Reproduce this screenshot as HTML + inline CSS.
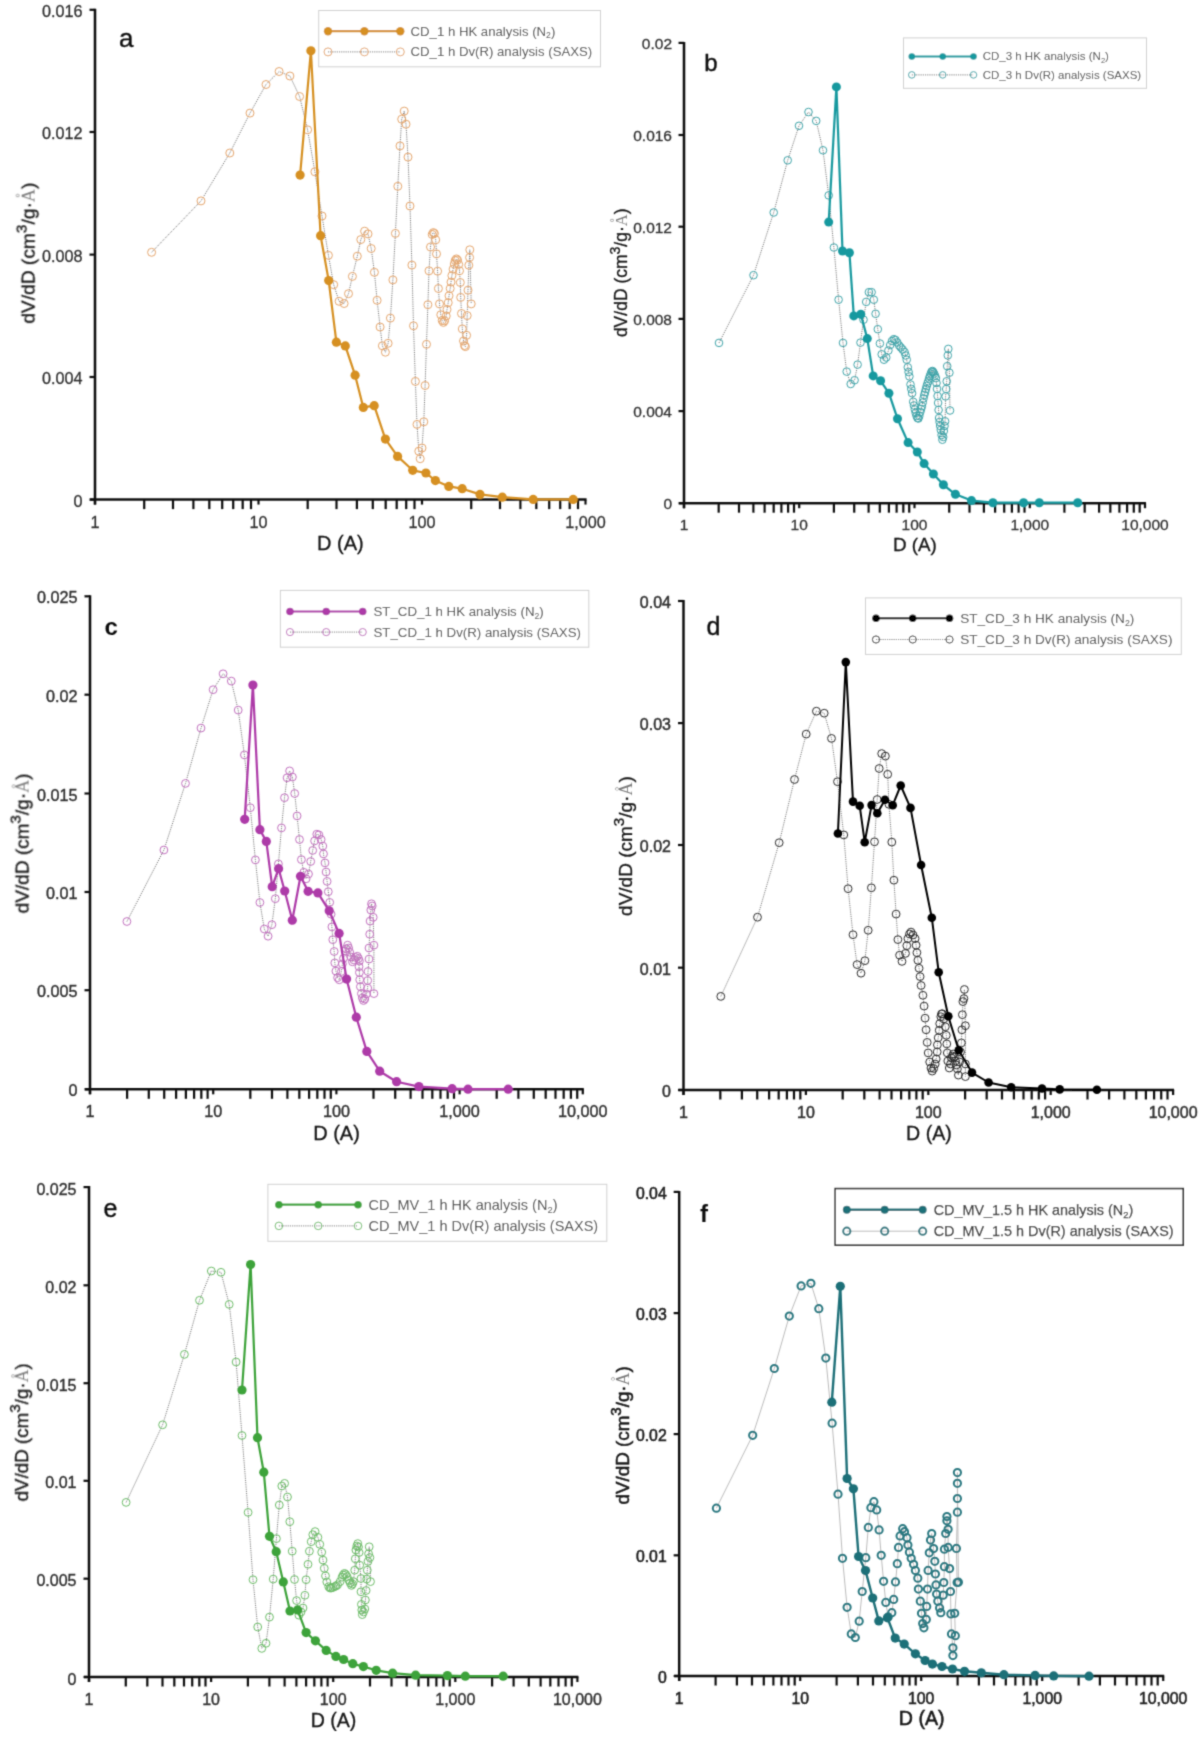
<!DOCTYPE html>
<html><head><meta charset="utf-8"><style>
html,body{margin:0;padding:0;background:#fff;}
svg{display:block;font-family:"Liberation Sans", sans-serif;}
</style></head><body>
<svg width="1203" height="1737" viewBox="0 0 1203 1737">
<defs><filter id="bl" x="0" y="0" width="1203" height="1737" filterUnits="userSpaceOnUse"><feConvolveMatrix order="3" kernelMatrix="0.0622 0.2494 0.0622 0.2494 1.0000 0.2494 0.0622 0.2494 0.0622" divisor="2.2461" edgeMode="none"/></filter></defs>
<rect width="1203" height="1737" fill="#fff"/>
<g filter="url(#bl)">
<line x1="95" y1="8.8" x2="95" y2="504.6" stroke="#111" stroke-width="2.5"/>
<line x1="90" y1="499.6" x2="586.5" y2="499.6" stroke="#111" stroke-width="2.5"/>
<line x1="89.5" y1="499.6" x2="95" y2="499.6" stroke="#111" stroke-width="2.2"/>
<text x="82.5" y="507" text-anchor="end" font-size="16.2" fill="#333" font-weight="400" stroke="#333" stroke-width="0.3">0</text>
<line x1="89.5" y1="377" x2="95" y2="377" stroke="#111" stroke-width="2.2"/>
<text x="82.5" y="384.4" text-anchor="end" font-size="16.2" fill="#333" font-weight="400" stroke="#333" stroke-width="0.3">0.004</text>
<line x1="89.5" y1="254.6" x2="95" y2="254.6" stroke="#111" stroke-width="2.2"/>
<text x="82.5" y="262" text-anchor="end" font-size="16.2" fill="#333" font-weight="400" stroke="#333" stroke-width="0.3">0.008</text>
<line x1="89.5" y1="132" x2="95" y2="132" stroke="#111" stroke-width="2.2"/>
<text x="82.5" y="139.4" text-anchor="end" font-size="16.2" fill="#333" font-weight="400" stroke="#333" stroke-width="0.3">0.012</text>
<line x1="89.5" y1="9.8" x2="95" y2="9.8" stroke="#111" stroke-width="2.2"/>
<text x="82.5" y="17.2" text-anchor="end" font-size="16.2" fill="#333" font-weight="400" stroke="#333" stroke-width="0.3">0.016</text>
<line x1="95" y1="499.6" x2="95" y2="504.6" stroke="#111" stroke-width="2.2"/>
<text x="95" y="528.1" text-anchor="middle" font-size="16.2" fill="#333" font-weight="400" stroke="#333" stroke-width="0.3">1</text>
<line x1="144.2" y1="499.6" x2="144.2" y2="509.1" stroke="#111" stroke-width="2.2"/>
<line x1="173" y1="499.6" x2="173" y2="509.1" stroke="#111" stroke-width="2.2"/>
<line x1="193.4" y1="499.6" x2="193.4" y2="509.1" stroke="#111" stroke-width="2.2"/>
<line x1="209.3" y1="499.6" x2="209.3" y2="509.1" stroke="#111" stroke-width="2.2"/>
<line x1="222.2" y1="499.6" x2="222.2" y2="509.1" stroke="#111" stroke-width="2.2"/>
<line x1="233.2" y1="499.6" x2="233.2" y2="509.1" stroke="#111" stroke-width="2.2"/>
<line x1="242.7" y1="499.6" x2="242.7" y2="509.1" stroke="#111" stroke-width="2.2"/>
<line x1="251" y1="499.6" x2="251" y2="509.1" stroke="#111" stroke-width="2.2"/>
<line x1="258.5" y1="499.6" x2="258.5" y2="504.6" stroke="#111" stroke-width="2.2"/>
<text x="258.5" y="528.1" text-anchor="middle" font-size="16.2" fill="#333" font-weight="400" stroke="#333" stroke-width="0.3">10</text>
<line x1="307.7" y1="499.6" x2="307.7" y2="509.1" stroke="#111" stroke-width="2.2"/>
<line x1="336.5" y1="499.6" x2="336.5" y2="509.1" stroke="#111" stroke-width="2.2"/>
<line x1="356.9" y1="499.6" x2="356.9" y2="509.1" stroke="#111" stroke-width="2.2"/>
<line x1="372.8" y1="499.6" x2="372.8" y2="509.1" stroke="#111" stroke-width="2.2"/>
<line x1="385.7" y1="499.6" x2="385.7" y2="509.1" stroke="#111" stroke-width="2.2"/>
<line x1="396.7" y1="499.6" x2="396.7" y2="509.1" stroke="#111" stroke-width="2.2"/>
<line x1="406.2" y1="499.6" x2="406.2" y2="509.1" stroke="#111" stroke-width="2.2"/>
<line x1="414.5" y1="499.6" x2="414.5" y2="509.1" stroke="#111" stroke-width="2.2"/>
<line x1="422" y1="499.6" x2="422" y2="504.6" stroke="#111" stroke-width="2.2"/>
<text x="422" y="528.1" text-anchor="middle" font-size="16.2" fill="#333" font-weight="400" stroke="#333" stroke-width="0.3">100</text>
<line x1="471.2" y1="499.6" x2="471.2" y2="509.1" stroke="#111" stroke-width="2.2"/>
<line x1="500" y1="499.6" x2="500" y2="509.1" stroke="#111" stroke-width="2.2"/>
<line x1="520.4" y1="499.6" x2="520.4" y2="509.1" stroke="#111" stroke-width="2.2"/>
<line x1="536.3" y1="499.6" x2="536.3" y2="509.1" stroke="#111" stroke-width="2.2"/>
<line x1="549.2" y1="499.6" x2="549.2" y2="509.1" stroke="#111" stroke-width="2.2"/>
<line x1="560.2" y1="499.6" x2="560.2" y2="509.1" stroke="#111" stroke-width="2.2"/>
<line x1="569.7" y1="499.6" x2="569.7" y2="509.1" stroke="#111" stroke-width="2.2"/>
<line x1="578" y1="499.6" x2="578" y2="509.1" stroke="#111" stroke-width="2.2"/>
<line x1="585.5" y1="499.6" x2="585.5" y2="504.6" stroke="#111" stroke-width="2.2"/>
<text x="585.5" y="528.1" text-anchor="middle" font-size="16.2" fill="#333" font-weight="400" stroke="#333" stroke-width="0.3">1,000</text>
<text x="340.4" y="549.9" text-anchor="middle" font-size="20" fill="#151515" font-weight="400" stroke="#151515" stroke-width="0.3">D (A)</text>
<text transform="translate(34.6,253.2) rotate(-90)" text-anchor="middle" font-size="19.2" fill="#151515" font-weight="400" stroke="#151515" stroke-width="0.3">dV/dD (cm<tspan font-size="15.4" dy="-8.1">3</tspan><tspan dy="8.1">/g·</tspan><tspan font-family='"Liberation Serif", serif' fill="#7a7a7a" stroke="none" font-size="18.2">A</tspan><tspan font-size="11.9" fill="#888" stroke="none" dx="-9" dy="-9.6">°</tspan><tspan dx="4.2" dy="9.6">)</tspan></text>
<text x="119" y="47.3" font-size="26" font-weight="400" fill="#111" stroke="#111" stroke-width="0.4">a</text>
<rect x="318.7" y="10.5" width="281.8" height="56.3" fill="#fff" stroke="#d0d0d0" stroke-width="1"/>
<line x1="328" y1="31.2" x2="400.3" y2="31.2" stroke="#d69022" stroke-width="2.2"/>
<circle cx="328" cy="31.2" r="4.2" fill="#d69022"/>
<circle cx="364.4" cy="31.2" r="4.2" fill="#d69022"/>
<circle cx="400.3" cy="31.2" r="4.2" fill="#d69022"/>
<line x1="328" y1="51.9" x2="400.3" y2="51.9" stroke="#707070" stroke-width="1" stroke-dasharray="1.1 1.1"/>
<circle cx="328" cy="51.9" r="4" fill="none" stroke="#e4a66e" stroke-width="1"/>
<circle cx="364.4" cy="51.9" r="4" fill="none" stroke="#e4a66e" stroke-width="1"/>
<circle cx="400.3" cy="51.9" r="4" fill="none" stroke="#e4a66e" stroke-width="1"/>
<text x="410.5" y="35.7" font-size="13.2" fill="#474747" font-weight="400">CD_1 h HK analysis (N<tspan font-size="8.6" dy="2.6">2</tspan><tspan dy="-2.6">)</tspan></text>
<text x="410.5" y="56.4" font-size="13.2" fill="#474747" font-weight="400">CD_1 h Dv(R) analysis (SAXS)</text>
<polyline points="151.6,252.3 201,200.9 229.8,153 250,113.1 266,84.5 279.1,71.5 289.9,76 299.6,96.5 307.6,129.8 314.9,171.8 322,216 328.4,255.3 333.7,284.7 339.1,301.3 344.1,303.5 348.5,293.7 352.4,276.4 357.3,256.2 360.8,239.6 364.6,231.2 368,233.9 371.2,248.5 374.4,272.3 377.1,300.3 380.1,327 382.4,345.8 385.4,352.2 388.1,343.3 390.4,318.1 392.9,279.9 395.4,233.4 397.8,186.3 400,145.9 401.7,119.2 404.2,111.1 406,124.2 408,157.1 410,206 411.9,265.1 413.5,325.8 415.4,381.4 417,424.4 418.8,451.2 420.2,458.7 422,448 423.8,421.8 425.1,385.5 426.5,344.3 427.9,304.7 429,270.8 430.5,247 432.2,234.5 433.3,232.6 434.4,233.5 435.7,239.8 436.5,253.9 437.6,271.2 438.4,288.5 439.5,303.9 440.8,314.8 442.2,320.5 443.4,322.4 444.6,320.8 446.2,316 447,309.5 448.2,302.7 449,295.8 450.2,288.5 451,282.1 451.9,275.6 453.1,269.2 454.3,264 455.2,260.5 456.4,258.9 457.5,260 458.7,264.4 459.5,270.8 460.3,282.5 460.7,297.4 461.5,313.5 462.3,328.9 463.5,341 464.5,345.5 465.4,346.6 466.6,335.3 467.2,315.6 468,290.2 468.8,265.2 469.6,257.5 469.8,249.8 471.2,303.9" fill="none" stroke="#707070" stroke-width="1" stroke-dasharray="1.1 1.1"/>
<circle cx="151.6" cy="252.3" r="4.0" fill="none" stroke="#e4a66e" stroke-width="1"/>
<circle cx="201" cy="200.9" r="4.0" fill="none" stroke="#e4a66e" stroke-width="1"/>
<circle cx="229.8" cy="153" r="4.0" fill="none" stroke="#e4a66e" stroke-width="1"/>
<circle cx="250" cy="113.1" r="4.0" fill="none" stroke="#e4a66e" stroke-width="1"/>
<circle cx="266" cy="84.5" r="4.0" fill="none" stroke="#e4a66e" stroke-width="1"/>
<circle cx="279.1" cy="71.5" r="4.0" fill="none" stroke="#e4a66e" stroke-width="1"/>
<circle cx="289.9" cy="76" r="4.0" fill="none" stroke="#e4a66e" stroke-width="1"/>
<circle cx="299.6" cy="96.5" r="4.0" fill="none" stroke="#e4a66e" stroke-width="1"/>
<circle cx="307.6" cy="129.8" r="4.0" fill="none" stroke="#e4a66e" stroke-width="1"/>
<circle cx="314.9" cy="171.8" r="4.0" fill="none" stroke="#e4a66e" stroke-width="1"/>
<circle cx="322" cy="216" r="4.0" fill="none" stroke="#e4a66e" stroke-width="1"/>
<circle cx="328.4" cy="255.3" r="4.0" fill="none" stroke="#e4a66e" stroke-width="1"/>
<circle cx="333.7" cy="284.7" r="4.0" fill="none" stroke="#e4a66e" stroke-width="1"/>
<circle cx="339.1" cy="301.3" r="4.0" fill="none" stroke="#e4a66e" stroke-width="1"/>
<circle cx="344.1" cy="303.5" r="4.0" fill="none" stroke="#e4a66e" stroke-width="1"/>
<circle cx="348.5" cy="293.7" r="4.0" fill="none" stroke="#e4a66e" stroke-width="1"/>
<circle cx="352.4" cy="276.4" r="4.0" fill="none" stroke="#e4a66e" stroke-width="1"/>
<circle cx="357.3" cy="256.2" r="4.0" fill="none" stroke="#e4a66e" stroke-width="1"/>
<circle cx="360.8" cy="239.6" r="4.0" fill="none" stroke="#e4a66e" stroke-width="1"/>
<circle cx="364.6" cy="231.2" r="4.0" fill="none" stroke="#e4a66e" stroke-width="1"/>
<circle cx="368" cy="233.9" r="4.0" fill="none" stroke="#e4a66e" stroke-width="1"/>
<circle cx="371.2" cy="248.5" r="4.0" fill="none" stroke="#e4a66e" stroke-width="1"/>
<circle cx="374.4" cy="272.3" r="4.0" fill="none" stroke="#e4a66e" stroke-width="1"/>
<circle cx="377.1" cy="300.3" r="4.0" fill="none" stroke="#e4a66e" stroke-width="1"/>
<circle cx="380.1" cy="327" r="4.0" fill="none" stroke="#e4a66e" stroke-width="1"/>
<circle cx="382.4" cy="345.8" r="4.0" fill="none" stroke="#e4a66e" stroke-width="1"/>
<circle cx="385.4" cy="352.2" r="4.0" fill="none" stroke="#e4a66e" stroke-width="1"/>
<circle cx="388.1" cy="343.3" r="4.0" fill="none" stroke="#e4a66e" stroke-width="1"/>
<circle cx="390.4" cy="318.1" r="4.0" fill="none" stroke="#e4a66e" stroke-width="1"/>
<circle cx="392.9" cy="279.9" r="4.0" fill="none" stroke="#e4a66e" stroke-width="1"/>
<circle cx="395.4" cy="233.4" r="4.0" fill="none" stroke="#e4a66e" stroke-width="1"/>
<circle cx="397.8" cy="186.3" r="4.0" fill="none" stroke="#e4a66e" stroke-width="1"/>
<circle cx="400" cy="145.9" r="4.0" fill="none" stroke="#e4a66e" stroke-width="1"/>
<circle cx="401.7" cy="119.2" r="4.0" fill="none" stroke="#e4a66e" stroke-width="1"/>
<circle cx="404.2" cy="111.1" r="4.0" fill="none" stroke="#e4a66e" stroke-width="1"/>
<circle cx="406" cy="124.2" r="4.0" fill="none" stroke="#e4a66e" stroke-width="1"/>
<circle cx="408" cy="157.1" r="4.0" fill="none" stroke="#e4a66e" stroke-width="1"/>
<circle cx="410" cy="206" r="4.0" fill="none" stroke="#e4a66e" stroke-width="1"/>
<circle cx="411.9" cy="265.1" r="4.0" fill="none" stroke="#e4a66e" stroke-width="1"/>
<circle cx="413.5" cy="325.8" r="4.0" fill="none" stroke="#e4a66e" stroke-width="1"/>
<circle cx="415.4" cy="381.4" r="4.0" fill="none" stroke="#e4a66e" stroke-width="1"/>
<circle cx="417" cy="424.4" r="4.0" fill="none" stroke="#e4a66e" stroke-width="1"/>
<circle cx="418.8" cy="451.2" r="4.0" fill="none" stroke="#e4a66e" stroke-width="1"/>
<circle cx="420.2" cy="458.7" r="4.0" fill="none" stroke="#e4a66e" stroke-width="1"/>
<circle cx="422" cy="448" r="4.0" fill="none" stroke="#e4a66e" stroke-width="1"/>
<circle cx="423.8" cy="421.8" r="4.0" fill="none" stroke="#e4a66e" stroke-width="1"/>
<circle cx="425.1" cy="385.5" r="4.0" fill="none" stroke="#e4a66e" stroke-width="1"/>
<circle cx="426.5" cy="344.3" r="4.0" fill="none" stroke="#e4a66e" stroke-width="1"/>
<circle cx="427.9" cy="304.7" r="4.0" fill="none" stroke="#e4a66e" stroke-width="1"/>
<circle cx="429" cy="270.8" r="4.0" fill="none" stroke="#e4a66e" stroke-width="1"/>
<circle cx="430.5" cy="247" r="4.0" fill="none" stroke="#e4a66e" stroke-width="1"/>
<circle cx="432.2" cy="234.5" r="4.0" fill="none" stroke="#e4a66e" stroke-width="1"/>
<circle cx="433.3" cy="232.6" r="4.0" fill="none" stroke="#e4a66e" stroke-width="1"/>
<circle cx="434.4" cy="233.5" r="4.0" fill="none" stroke="#e4a66e" stroke-width="1"/>
<circle cx="435.7" cy="239.8" r="4.0" fill="none" stroke="#e4a66e" stroke-width="1"/>
<circle cx="436.5" cy="253.9" r="4.0" fill="none" stroke="#e4a66e" stroke-width="1"/>
<circle cx="437.6" cy="271.2" r="4.0" fill="none" stroke="#e4a66e" stroke-width="1"/>
<circle cx="438.4" cy="288.5" r="4.0" fill="none" stroke="#e4a66e" stroke-width="1"/>
<circle cx="439.5" cy="303.9" r="4.0" fill="none" stroke="#e4a66e" stroke-width="1"/>
<circle cx="440.8" cy="314.8" r="4.0" fill="none" stroke="#e4a66e" stroke-width="1"/>
<circle cx="442.2" cy="320.5" r="4.0" fill="none" stroke="#e4a66e" stroke-width="1"/>
<circle cx="443.4" cy="322.4" r="4.0" fill="none" stroke="#e4a66e" stroke-width="1"/>
<circle cx="444.6" cy="320.8" r="4.0" fill="none" stroke="#e4a66e" stroke-width="1"/>
<circle cx="446.2" cy="316" r="4.0" fill="none" stroke="#e4a66e" stroke-width="1"/>
<circle cx="447" cy="309.5" r="4.0" fill="none" stroke="#e4a66e" stroke-width="1"/>
<circle cx="448.2" cy="302.7" r="4.0" fill="none" stroke="#e4a66e" stroke-width="1"/>
<circle cx="449" cy="295.8" r="4.0" fill="none" stroke="#e4a66e" stroke-width="1"/>
<circle cx="450.2" cy="288.5" r="4.0" fill="none" stroke="#e4a66e" stroke-width="1"/>
<circle cx="451" cy="282.1" r="4.0" fill="none" stroke="#e4a66e" stroke-width="1"/>
<circle cx="451.9" cy="275.6" r="4.0" fill="none" stroke="#e4a66e" stroke-width="1"/>
<circle cx="453.1" cy="269.2" r="4.0" fill="none" stroke="#e4a66e" stroke-width="1"/>
<circle cx="454.3" cy="264" r="4.0" fill="none" stroke="#e4a66e" stroke-width="1"/>
<circle cx="455.2" cy="260.5" r="4.0" fill="none" stroke="#e4a66e" stroke-width="1"/>
<circle cx="456.4" cy="258.9" r="4.0" fill="none" stroke="#e4a66e" stroke-width="1"/>
<circle cx="457.5" cy="260" r="4.0" fill="none" stroke="#e4a66e" stroke-width="1"/>
<circle cx="458.7" cy="264.4" r="4.0" fill="none" stroke="#e4a66e" stroke-width="1"/>
<circle cx="459.5" cy="270.8" r="4.0" fill="none" stroke="#e4a66e" stroke-width="1"/>
<circle cx="460.3" cy="282.5" r="4.0" fill="none" stroke="#e4a66e" stroke-width="1"/>
<circle cx="460.7" cy="297.4" r="4.0" fill="none" stroke="#e4a66e" stroke-width="1"/>
<circle cx="461.5" cy="313.5" r="4.0" fill="none" stroke="#e4a66e" stroke-width="1"/>
<circle cx="462.3" cy="328.9" r="4.0" fill="none" stroke="#e4a66e" stroke-width="1"/>
<circle cx="463.5" cy="341" r="4.0" fill="none" stroke="#e4a66e" stroke-width="1"/>
<circle cx="464.5" cy="345.5" r="4.0" fill="none" stroke="#e4a66e" stroke-width="1"/>
<circle cx="465.4" cy="346.6" r="4.0" fill="none" stroke="#e4a66e" stroke-width="1"/>
<circle cx="466.6" cy="335.3" r="4.0" fill="none" stroke="#e4a66e" stroke-width="1"/>
<circle cx="467.2" cy="315.6" r="4.0" fill="none" stroke="#e4a66e" stroke-width="1"/>
<circle cx="468" cy="290.2" r="4.0" fill="none" stroke="#e4a66e" stroke-width="1"/>
<circle cx="468.8" cy="265.2" r="4.0" fill="none" stroke="#e4a66e" stroke-width="1"/>
<circle cx="469.6" cy="257.5" r="4.0" fill="none" stroke="#e4a66e" stroke-width="1"/>
<circle cx="469.8" cy="249.8" r="4.0" fill="none" stroke="#e4a66e" stroke-width="1"/>
<circle cx="471.2" cy="303.9" r="4.0" fill="none" stroke="#e4a66e" stroke-width="1"/>
<polyline points="300.1,175.1 310.9,50.8 320.6,235.7 328.7,280.6 336.4,342.2 345.3,345.9 355.1,375.2 363.3,407.4 374.2,405.7 385.4,439.1 397.6,456.4 412.7,470.3 425.9,473 435.4,480.6 448.8,486.4 462.2,488.7 480,494.4 502.3,497.2 533.2,499.4 573.2,499.4" fill="none" stroke="#d69022" stroke-width="2.2" stroke-linejoin="round"/>
<circle cx="300.1" cy="175.1" r="4.6" fill="#d69022"/>
<circle cx="310.9" cy="50.8" r="4.6" fill="#d69022"/>
<circle cx="320.6" cy="235.7" r="4.6" fill="#d69022"/>
<circle cx="328.7" cy="280.6" r="4.6" fill="#d69022"/>
<circle cx="336.4" cy="342.2" r="4.6" fill="#d69022"/>
<circle cx="345.3" cy="345.9" r="4.6" fill="#d69022"/>
<circle cx="355.1" cy="375.2" r="4.6" fill="#d69022"/>
<circle cx="363.3" cy="407.4" r="4.6" fill="#d69022"/>
<circle cx="374.2" cy="405.7" r="4.6" fill="#d69022"/>
<circle cx="385.4" cy="439.1" r="4.6" fill="#d69022"/>
<circle cx="397.6" cy="456.4" r="4.6" fill="#d69022"/>
<circle cx="412.7" cy="470.3" r="4.6" fill="#d69022"/>
<circle cx="425.9" cy="473" r="4.6" fill="#d69022"/>
<circle cx="435.4" cy="480.6" r="4.6" fill="#d69022"/>
<circle cx="448.8" cy="486.4" r="4.6" fill="#d69022"/>
<circle cx="462.2" cy="488.7" r="4.6" fill="#d69022"/>
<circle cx="480" cy="494.4" r="4.6" fill="#d69022"/>
<circle cx="502.3" cy="497.2" r="4.6" fill="#d69022"/>
<circle cx="533.2" cy="499.4" r="4.6" fill="#d69022"/>
<circle cx="573.2" cy="499.4" r="4.6" fill="#d69022"/>
<line x1="684" y1="41.9" x2="684" y2="508.2" stroke="#111" stroke-width="2.5"/>
<line x1="679" y1="503.2" x2="1146" y2="503.2" stroke="#111" stroke-width="2.5"/>
<line x1="678.5" y1="503.2" x2="684" y2="503.2" stroke="#111" stroke-width="2.2"/>
<text x="672" y="509.4" text-anchor="end" font-size="15.5" fill="#333" font-weight="400" stroke="#333" stroke-width="0.3">0</text>
<line x1="678.5" y1="411.1" x2="684" y2="411.1" stroke="#111" stroke-width="2.2"/>
<text x="672" y="417.3" text-anchor="end" font-size="15.5" fill="#333" font-weight="400" stroke="#333" stroke-width="0.3">0.004</text>
<line x1="678.5" y1="318.9" x2="684" y2="318.9" stroke="#111" stroke-width="2.2"/>
<text x="672" y="325.1" text-anchor="end" font-size="15.5" fill="#333" font-weight="400" stroke="#333" stroke-width="0.3">0.008</text>
<line x1="678.5" y1="226.7" x2="684" y2="226.7" stroke="#111" stroke-width="2.2"/>
<text x="672" y="232.9" text-anchor="end" font-size="15.5" fill="#333" font-weight="400" stroke="#333" stroke-width="0.3">0.012</text>
<line x1="678.5" y1="135" x2="684" y2="135" stroke="#111" stroke-width="2.2"/>
<text x="672" y="141.2" text-anchor="end" font-size="15.5" fill="#333" font-weight="400" stroke="#333" stroke-width="0.3">0.016</text>
<line x1="678.5" y1="42.9" x2="684" y2="42.9" stroke="#111" stroke-width="2.2"/>
<text x="672" y="49.1" text-anchor="end" font-size="15.5" fill="#333" font-weight="400" stroke="#333" stroke-width="0.3">0.02</text>
<line x1="684" y1="503.2" x2="684" y2="508.2" stroke="#111" stroke-width="2.2"/>
<text x="684" y="530.2" text-anchor="middle" font-size="15.5" fill="#333" font-weight="400" stroke="#333" stroke-width="0.3">1</text>
<line x1="718.7" y1="503.2" x2="718.7" y2="512.7" stroke="#111" stroke-width="2.2"/>
<line x1="739" y1="503.2" x2="739" y2="512.7" stroke="#111" stroke-width="2.2"/>
<line x1="753.4" y1="503.2" x2="753.4" y2="512.7" stroke="#111" stroke-width="2.2"/>
<line x1="764.6" y1="503.2" x2="764.6" y2="512.7" stroke="#111" stroke-width="2.2"/>
<line x1="773.7" y1="503.2" x2="773.7" y2="512.7" stroke="#111" stroke-width="2.2"/>
<line x1="781.4" y1="503.2" x2="781.4" y2="512.7" stroke="#111" stroke-width="2.2"/>
<line x1="788.1" y1="503.2" x2="788.1" y2="512.7" stroke="#111" stroke-width="2.2"/>
<line x1="794" y1="503.2" x2="794" y2="512.7" stroke="#111" stroke-width="2.2"/>
<line x1="799.2" y1="503.2" x2="799.2" y2="508.2" stroke="#111" stroke-width="2.2"/>
<text x="799.2" y="530.2" text-anchor="middle" font-size="15.5" fill="#333" font-weight="400" stroke="#333" stroke-width="0.3">10</text>
<line x1="833.9" y1="503.2" x2="833.9" y2="512.7" stroke="#111" stroke-width="2.2"/>
<line x1="854.2" y1="503.2" x2="854.2" y2="512.7" stroke="#111" stroke-width="2.2"/>
<line x1="868.6" y1="503.2" x2="868.6" y2="512.7" stroke="#111" stroke-width="2.2"/>
<line x1="879.8" y1="503.2" x2="879.8" y2="512.7" stroke="#111" stroke-width="2.2"/>
<line x1="888.9" y1="503.2" x2="888.9" y2="512.7" stroke="#111" stroke-width="2.2"/>
<line x1="896.6" y1="503.2" x2="896.6" y2="512.7" stroke="#111" stroke-width="2.2"/>
<line x1="903.3" y1="503.2" x2="903.3" y2="512.7" stroke="#111" stroke-width="2.2"/>
<line x1="909.2" y1="503.2" x2="909.2" y2="512.7" stroke="#111" stroke-width="2.2"/>
<line x1="914.5" y1="503.2" x2="914.5" y2="508.2" stroke="#111" stroke-width="2.2"/>
<text x="914.5" y="530.2" text-anchor="middle" font-size="15.5" fill="#333" font-weight="400" stroke="#333" stroke-width="0.3">100</text>
<line x1="949.2" y1="503.2" x2="949.2" y2="512.7" stroke="#111" stroke-width="2.2"/>
<line x1="969.5" y1="503.2" x2="969.5" y2="512.7" stroke="#111" stroke-width="2.2"/>
<line x1="983.9" y1="503.2" x2="983.9" y2="512.7" stroke="#111" stroke-width="2.2"/>
<line x1="995.1" y1="503.2" x2="995.1" y2="512.7" stroke="#111" stroke-width="2.2"/>
<line x1="1004.2" y1="503.2" x2="1004.2" y2="512.7" stroke="#111" stroke-width="2.2"/>
<line x1="1011.9" y1="503.2" x2="1011.9" y2="512.7" stroke="#111" stroke-width="2.2"/>
<line x1="1018.6" y1="503.2" x2="1018.6" y2="512.7" stroke="#111" stroke-width="2.2"/>
<line x1="1024.5" y1="503.2" x2="1024.5" y2="512.7" stroke="#111" stroke-width="2.2"/>
<line x1="1029.8" y1="503.2" x2="1029.8" y2="508.2" stroke="#111" stroke-width="2.2"/>
<text x="1029.8" y="530.2" text-anchor="middle" font-size="15.5" fill="#333" font-weight="400" stroke="#333" stroke-width="0.3">1,000</text>
<line x1="1064.4" y1="503.2" x2="1064.4" y2="512.7" stroke="#111" stroke-width="2.2"/>
<line x1="1084.7" y1="503.2" x2="1084.7" y2="512.7" stroke="#111" stroke-width="2.2"/>
<line x1="1099.1" y1="503.2" x2="1099.1" y2="512.7" stroke="#111" stroke-width="2.2"/>
<line x1="1110.3" y1="503.2" x2="1110.3" y2="512.7" stroke="#111" stroke-width="2.2"/>
<line x1="1119.4" y1="503.2" x2="1119.4" y2="512.7" stroke="#111" stroke-width="2.2"/>
<line x1="1127.1" y1="503.2" x2="1127.1" y2="512.7" stroke="#111" stroke-width="2.2"/>
<line x1="1133.8" y1="503.2" x2="1133.8" y2="512.7" stroke="#111" stroke-width="2.2"/>
<line x1="1139.7" y1="503.2" x2="1139.7" y2="512.7" stroke="#111" stroke-width="2.2"/>
<line x1="1145" y1="503.2" x2="1145" y2="508.2" stroke="#111" stroke-width="2.2"/>
<text x="1145" y="530.2" text-anchor="middle" font-size="15.5" fill="#333" font-weight="400" stroke="#333" stroke-width="0.3">10,000</text>
<text x="914.8" y="550.8" text-anchor="middle" font-size="18.8" fill="#151515" font-weight="400" stroke="#151515" stroke-width="0.3">D (A)</text>
<text transform="translate(627.1,272.8) rotate(-90)" text-anchor="middle" font-size="17.5" fill="#151515" font-weight="400" stroke="#151515" stroke-width="0.3">dV/dD (cm<tspan font-size="14" dy="-7.3">3</tspan><tspan dy="7.3">/g·</tspan><tspan font-family='"Liberation Serif", serif' fill="#7a7a7a" stroke="none" font-size="16.6">A</tspan><tspan font-size="10.8" fill="#888" stroke="none" dx="-8.2" dy="-8.8">°</tspan><tspan dx="3.8" dy="8.8">)</tspan></text>
<text x="704.3" y="71.3" font-size="24" font-weight="400" fill="#111" stroke="#111" stroke-width="0.4">b</text>
<rect x="903.5" y="37.9" width="243" height="50.4" fill="#fff" stroke="#d0d0d0" stroke-width="1"/>
<line x1="911.8" y1="56.5" x2="973.5" y2="56.5" stroke="#15999f" stroke-width="2.2"/>
<circle cx="911.8" cy="56.5" r="3.3" fill="#15999f"/>
<circle cx="942.7" cy="56.5" r="3.3" fill="#15999f"/>
<circle cx="973.5" cy="56.5" r="3.3" fill="#15999f"/>
<line x1="911.8" y1="74.9" x2="973.5" y2="74.9" stroke="#707070" stroke-width="1" stroke-dasharray="1.1 1.1"/>
<circle cx="911.8" cy="74.9" r="3.3" fill="none" stroke="#3fa3a8" stroke-width="1"/>
<circle cx="942.7" cy="74.9" r="3.3" fill="none" stroke="#3fa3a8" stroke-width="1"/>
<circle cx="973.5" cy="74.9" r="3.3" fill="none" stroke="#3fa3a8" stroke-width="1"/>
<text x="982.7" y="60.4" font-size="11.5" fill="#474747" font-weight="400">CD_3 h HK analysis (N<tspan font-size="7.5" dy="2.3">2</tspan><tspan dy="-2.3">)</tspan></text>
<text x="982.7" y="78.8" font-size="11.5" fill="#474747" font-weight="400">CD_3 h Dv(R) analysis (SAXS)</text>
<polyline points="719,342.9 753.5,275.2 773.7,212.5 787.7,160.3 799,125.8 808.5,112 816.2,120.9 823,150.3 828.7,195.4 833.9,247.5 838.6,299.7 843,342.9 846.7,371.6 850.7,384 854.6,380.2 857.6,364.6 860.5,342.6 863.5,319.7 866.2,301.9 868.9,292.2 871.6,292.2 873.8,299.7 875.6,313.8 877.8,329.2 879.9,343.5 881.7,354.3 884,359.7 886.2,357.5 888.4,350.5 890.2,345 892,341 893.8,339.2 895.5,340 897.3,342.5 899.2,345.6 900.8,347.5 902.6,349.5 904.6,352.1 905.7,355.5 906.7,359.7 907.8,367.3 908.6,372 909.4,376.4 910.5,384.5 911.3,389 912.1,393.2 913.2,401.8 914,405.5 914.8,409.4 915.7,413 916.6,416 917.5,418 918.4,418.5 919.3,416 920.3,412 921.1,409 921.9,406.2 922.7,402.5 923.5,398.5 924.3,395 925.1,392.1 925.9,389 926.7,386 927.5,383.5 928.3,381.3 929.1,378.5 929.9,376 930.8,373.5 931.6,371.6 932.4,371 933.2,372 934,373.5 934.9,375.5 935.9,378.1 936.5,383 937,388.9 937.6,396 938.1,402.9 938.6,410 939.1,418 939.6,422 940.2,426 940.8,429.9 941.6,435 942.4,439.7 943.2,437 943.8,431 944.5,426 945.1,421.3 945.6,396.4 946.2,389 946.7,381.3 947.2,366.2 947.8,355.4 948.3,348.9 949.4,372.7 950,410.5" fill="none" stroke="#707070" stroke-width="1" stroke-dasharray="1.1 1.1"/>
<circle cx="719" cy="342.9" r="3.8" fill="none" stroke="#3fa3a8" stroke-width="1"/>
<circle cx="753.5" cy="275.2" r="3.8" fill="none" stroke="#3fa3a8" stroke-width="1"/>
<circle cx="773.7" cy="212.5" r="3.8" fill="none" stroke="#3fa3a8" stroke-width="1"/>
<circle cx="787.7" cy="160.3" r="3.8" fill="none" stroke="#3fa3a8" stroke-width="1"/>
<circle cx="799" cy="125.8" r="3.8" fill="none" stroke="#3fa3a8" stroke-width="1"/>
<circle cx="808.5" cy="112" r="3.8" fill="none" stroke="#3fa3a8" stroke-width="1"/>
<circle cx="816.2" cy="120.9" r="3.8" fill="none" stroke="#3fa3a8" stroke-width="1"/>
<circle cx="823" cy="150.3" r="3.8" fill="none" stroke="#3fa3a8" stroke-width="1"/>
<circle cx="828.7" cy="195.4" r="3.8" fill="none" stroke="#3fa3a8" stroke-width="1"/>
<circle cx="833.9" cy="247.5" r="3.8" fill="none" stroke="#3fa3a8" stroke-width="1"/>
<circle cx="838.6" cy="299.7" r="3.8" fill="none" stroke="#3fa3a8" stroke-width="1"/>
<circle cx="843" cy="342.9" r="3.8" fill="none" stroke="#3fa3a8" stroke-width="1"/>
<circle cx="846.7" cy="371.6" r="3.8" fill="none" stroke="#3fa3a8" stroke-width="1"/>
<circle cx="850.7" cy="384" r="3.8" fill="none" stroke="#3fa3a8" stroke-width="1"/>
<circle cx="854.6" cy="380.2" r="3.8" fill="none" stroke="#3fa3a8" stroke-width="1"/>
<circle cx="857.6" cy="364.6" r="3.8" fill="none" stroke="#3fa3a8" stroke-width="1"/>
<circle cx="860.5" cy="342.6" r="3.8" fill="none" stroke="#3fa3a8" stroke-width="1"/>
<circle cx="863.5" cy="319.7" r="3.8" fill="none" stroke="#3fa3a8" stroke-width="1"/>
<circle cx="866.2" cy="301.9" r="3.8" fill="none" stroke="#3fa3a8" stroke-width="1"/>
<circle cx="868.9" cy="292.2" r="3.8" fill="none" stroke="#3fa3a8" stroke-width="1"/>
<circle cx="871.6" cy="292.2" r="3.8" fill="none" stroke="#3fa3a8" stroke-width="1"/>
<circle cx="873.8" cy="299.7" r="3.8" fill="none" stroke="#3fa3a8" stroke-width="1"/>
<circle cx="875.6" cy="313.8" r="3.8" fill="none" stroke="#3fa3a8" stroke-width="1"/>
<circle cx="877.8" cy="329.2" r="3.8" fill="none" stroke="#3fa3a8" stroke-width="1"/>
<circle cx="879.9" cy="343.5" r="3.8" fill="none" stroke="#3fa3a8" stroke-width="1"/>
<circle cx="881.7" cy="354.3" r="3.8" fill="none" stroke="#3fa3a8" stroke-width="1"/>
<circle cx="884" cy="359.7" r="3.8" fill="none" stroke="#3fa3a8" stroke-width="1"/>
<circle cx="886.2" cy="357.5" r="3.8" fill="none" stroke="#3fa3a8" stroke-width="1"/>
<circle cx="888.4" cy="350.5" r="3.8" fill="none" stroke="#3fa3a8" stroke-width="1"/>
<circle cx="890.2" cy="345" r="3.8" fill="none" stroke="#3fa3a8" stroke-width="1"/>
<circle cx="892" cy="341" r="3.8" fill="none" stroke="#3fa3a8" stroke-width="1"/>
<circle cx="893.8" cy="339.2" r="3.8" fill="none" stroke="#3fa3a8" stroke-width="1"/>
<circle cx="895.5" cy="340" r="3.8" fill="none" stroke="#3fa3a8" stroke-width="1"/>
<circle cx="897.3" cy="342.5" r="3.8" fill="none" stroke="#3fa3a8" stroke-width="1"/>
<circle cx="899.2" cy="345.6" r="3.8" fill="none" stroke="#3fa3a8" stroke-width="1"/>
<circle cx="900.8" cy="347.5" r="3.8" fill="none" stroke="#3fa3a8" stroke-width="1"/>
<circle cx="902.6" cy="349.5" r="3.8" fill="none" stroke="#3fa3a8" stroke-width="1"/>
<circle cx="904.6" cy="352.1" r="3.8" fill="none" stroke="#3fa3a8" stroke-width="1"/>
<circle cx="905.7" cy="355.5" r="3.8" fill="none" stroke="#3fa3a8" stroke-width="1"/>
<circle cx="906.7" cy="359.7" r="3.8" fill="none" stroke="#3fa3a8" stroke-width="1"/>
<circle cx="907.8" cy="367.3" r="3.8" fill="none" stroke="#3fa3a8" stroke-width="1"/>
<circle cx="908.6" cy="372" r="3.8" fill="none" stroke="#3fa3a8" stroke-width="1"/>
<circle cx="909.4" cy="376.4" r="3.8" fill="none" stroke="#3fa3a8" stroke-width="1"/>
<circle cx="910.5" cy="384.5" r="3.8" fill="none" stroke="#3fa3a8" stroke-width="1"/>
<circle cx="911.3" cy="389" r="3.8" fill="none" stroke="#3fa3a8" stroke-width="1"/>
<circle cx="912.1" cy="393.2" r="3.8" fill="none" stroke="#3fa3a8" stroke-width="1"/>
<circle cx="913.2" cy="401.8" r="3.8" fill="none" stroke="#3fa3a8" stroke-width="1"/>
<circle cx="914" cy="405.5" r="3.8" fill="none" stroke="#3fa3a8" stroke-width="1"/>
<circle cx="914.8" cy="409.4" r="3.8" fill="none" stroke="#3fa3a8" stroke-width="1"/>
<circle cx="915.7" cy="413" r="3.8" fill="none" stroke="#3fa3a8" stroke-width="1"/>
<circle cx="916.6" cy="416" r="3.8" fill="none" stroke="#3fa3a8" stroke-width="1"/>
<circle cx="917.5" cy="418" r="3.8" fill="none" stroke="#3fa3a8" stroke-width="1"/>
<circle cx="918.4" cy="418.5" r="3.8" fill="none" stroke="#3fa3a8" stroke-width="1"/>
<circle cx="919.3" cy="416" r="3.8" fill="none" stroke="#3fa3a8" stroke-width="1"/>
<circle cx="920.3" cy="412" r="3.8" fill="none" stroke="#3fa3a8" stroke-width="1"/>
<circle cx="921.1" cy="409" r="3.8" fill="none" stroke="#3fa3a8" stroke-width="1"/>
<circle cx="921.9" cy="406.2" r="3.8" fill="none" stroke="#3fa3a8" stroke-width="1"/>
<circle cx="922.7" cy="402.5" r="3.8" fill="none" stroke="#3fa3a8" stroke-width="1"/>
<circle cx="923.5" cy="398.5" r="3.8" fill="none" stroke="#3fa3a8" stroke-width="1"/>
<circle cx="924.3" cy="395" r="3.8" fill="none" stroke="#3fa3a8" stroke-width="1"/>
<circle cx="925.1" cy="392.1" r="3.8" fill="none" stroke="#3fa3a8" stroke-width="1"/>
<circle cx="925.9" cy="389" r="3.8" fill="none" stroke="#3fa3a8" stroke-width="1"/>
<circle cx="926.7" cy="386" r="3.8" fill="none" stroke="#3fa3a8" stroke-width="1"/>
<circle cx="927.5" cy="383.5" r="3.8" fill="none" stroke="#3fa3a8" stroke-width="1"/>
<circle cx="928.3" cy="381.3" r="3.8" fill="none" stroke="#3fa3a8" stroke-width="1"/>
<circle cx="929.1" cy="378.5" r="3.8" fill="none" stroke="#3fa3a8" stroke-width="1"/>
<circle cx="929.9" cy="376" r="3.8" fill="none" stroke="#3fa3a8" stroke-width="1"/>
<circle cx="930.8" cy="373.5" r="3.8" fill="none" stroke="#3fa3a8" stroke-width="1"/>
<circle cx="931.6" cy="371.6" r="3.8" fill="none" stroke="#3fa3a8" stroke-width="1"/>
<circle cx="932.4" cy="371" r="3.8" fill="none" stroke="#3fa3a8" stroke-width="1"/>
<circle cx="933.2" cy="372" r="3.8" fill="none" stroke="#3fa3a8" stroke-width="1"/>
<circle cx="934" cy="373.5" r="3.8" fill="none" stroke="#3fa3a8" stroke-width="1"/>
<circle cx="934.9" cy="375.5" r="3.8" fill="none" stroke="#3fa3a8" stroke-width="1"/>
<circle cx="935.9" cy="378.1" r="3.8" fill="none" stroke="#3fa3a8" stroke-width="1"/>
<circle cx="936.5" cy="383" r="3.8" fill="none" stroke="#3fa3a8" stroke-width="1"/>
<circle cx="937" cy="388.9" r="3.8" fill="none" stroke="#3fa3a8" stroke-width="1"/>
<circle cx="937.6" cy="396" r="3.8" fill="none" stroke="#3fa3a8" stroke-width="1"/>
<circle cx="938.1" cy="402.9" r="3.8" fill="none" stroke="#3fa3a8" stroke-width="1"/>
<circle cx="938.6" cy="410" r="3.8" fill="none" stroke="#3fa3a8" stroke-width="1"/>
<circle cx="939.1" cy="418" r="3.8" fill="none" stroke="#3fa3a8" stroke-width="1"/>
<circle cx="939.6" cy="422" r="3.8" fill="none" stroke="#3fa3a8" stroke-width="1"/>
<circle cx="940.2" cy="426" r="3.8" fill="none" stroke="#3fa3a8" stroke-width="1"/>
<circle cx="940.8" cy="429.9" r="3.8" fill="none" stroke="#3fa3a8" stroke-width="1"/>
<circle cx="941.6" cy="435" r="3.8" fill="none" stroke="#3fa3a8" stroke-width="1"/>
<circle cx="942.4" cy="439.7" r="3.8" fill="none" stroke="#3fa3a8" stroke-width="1"/>
<circle cx="943.2" cy="437" r="3.8" fill="none" stroke="#3fa3a8" stroke-width="1"/>
<circle cx="943.8" cy="431" r="3.8" fill="none" stroke="#3fa3a8" stroke-width="1"/>
<circle cx="944.5" cy="426" r="3.8" fill="none" stroke="#3fa3a8" stroke-width="1"/>
<circle cx="945.1" cy="421.3" r="3.8" fill="none" stroke="#3fa3a8" stroke-width="1"/>
<circle cx="945.6" cy="396.4" r="3.8" fill="none" stroke="#3fa3a8" stroke-width="1"/>
<circle cx="946.2" cy="389" r="3.8" fill="none" stroke="#3fa3a8" stroke-width="1"/>
<circle cx="946.7" cy="381.3" r="3.8" fill="none" stroke="#3fa3a8" stroke-width="1"/>
<circle cx="947.2" cy="366.2" r="3.8" fill="none" stroke="#3fa3a8" stroke-width="1"/>
<circle cx="947.8" cy="355.4" r="3.8" fill="none" stroke="#3fa3a8" stroke-width="1"/>
<circle cx="948.3" cy="348.9" r="3.8" fill="none" stroke="#3fa3a8" stroke-width="1"/>
<circle cx="949.4" cy="372.7" r="3.8" fill="none" stroke="#3fa3a8" stroke-width="1"/>
<circle cx="950" cy="410.5" r="3.8" fill="none" stroke="#3fa3a8" stroke-width="1"/>
<polyline points="828.7,222.1 836.4,86.9 842.5,251 849.4,252.7 853.8,315.9 860.8,314.3 867.3,338.6 873.2,375.9 880.6,380.8 888.9,393.2 897.5,418.7 908.1,442.6 917.3,452 924.1,463.6 933.4,474 943.4,484.8 955.4,494.3 971.5,500.6 992.9,502.7 1023.6,502.7 1039.3,502.7 1077.7,502.7" fill="none" stroke="#15999f" stroke-width="2.2" stroke-linejoin="round"/>
<circle cx="828.7" cy="222.1" r="4.5" fill="#15999f"/>
<circle cx="836.4" cy="86.9" r="4.5" fill="#15999f"/>
<circle cx="842.5" cy="251" r="4.5" fill="#15999f"/>
<circle cx="849.4" cy="252.7" r="4.5" fill="#15999f"/>
<circle cx="853.8" cy="315.9" r="4.5" fill="#15999f"/>
<circle cx="860.8" cy="314.3" r="4.5" fill="#15999f"/>
<circle cx="867.3" cy="338.6" r="4.5" fill="#15999f"/>
<circle cx="873.2" cy="375.9" r="4.5" fill="#15999f"/>
<circle cx="880.6" cy="380.8" r="4.5" fill="#15999f"/>
<circle cx="888.9" cy="393.2" r="4.5" fill="#15999f"/>
<circle cx="897.5" cy="418.7" r="4.5" fill="#15999f"/>
<circle cx="908.1" cy="442.6" r="4.5" fill="#15999f"/>
<circle cx="917.3" cy="452" r="4.5" fill="#15999f"/>
<circle cx="924.1" cy="463.6" r="4.5" fill="#15999f"/>
<circle cx="933.4" cy="474" r="4.5" fill="#15999f"/>
<circle cx="943.4" cy="484.8" r="4.5" fill="#15999f"/>
<circle cx="955.4" cy="494.3" r="4.5" fill="#15999f"/>
<circle cx="971.5" cy="500.6" r="4.5" fill="#15999f"/>
<circle cx="992.9" cy="502.7" r="4.5" fill="#15999f"/>
<circle cx="1023.6" cy="502.7" r="4.5" fill="#15999f"/>
<circle cx="1039.3" cy="502.7" r="4.5" fill="#15999f"/>
<circle cx="1077.7" cy="502.7" r="4.5" fill="#15999f"/>
<line x1="90" y1="595.3" x2="90" y2="1094.3" stroke="#111" stroke-width="2.5"/>
<line x1="85" y1="1089.3" x2="583.8" y2="1089.3" stroke="#111" stroke-width="2.5"/>
<line x1="84.5" y1="1089.3" x2="90" y2="1089.3" stroke="#111" stroke-width="2.2"/>
<text x="77.5" y="1096.3" text-anchor="end" font-size="16.2" fill="#333" font-weight="400" stroke="#333" stroke-width="0.4">0</text>
<line x1="84.5" y1="990.2" x2="90" y2="990.2" stroke="#111" stroke-width="2.2"/>
<text x="77.5" y="997.2" text-anchor="end" font-size="16.2" fill="#333" font-weight="400" stroke="#333" stroke-width="0.4">0.005</text>
<line x1="84.5" y1="892" x2="90" y2="892" stroke="#111" stroke-width="2.2"/>
<text x="77.5" y="899" text-anchor="end" font-size="16.2" fill="#333" font-weight="400" stroke="#333" stroke-width="0.4">0.01</text>
<line x1="84.5" y1="793.5" x2="90" y2="793.5" stroke="#111" stroke-width="2.2"/>
<text x="77.5" y="800.5" text-anchor="end" font-size="16.2" fill="#333" font-weight="400" stroke="#333" stroke-width="0.4">0.015</text>
<line x1="84.5" y1="694.7" x2="90" y2="694.7" stroke="#111" stroke-width="2.2"/>
<text x="77.5" y="701.7" text-anchor="end" font-size="16.2" fill="#333" font-weight="400" stroke="#333" stroke-width="0.4">0.02</text>
<line x1="84.5" y1="596.3" x2="90" y2="596.3" stroke="#111" stroke-width="2.2"/>
<text x="77.5" y="603.3" text-anchor="end" font-size="16.2" fill="#333" font-weight="400" stroke="#333" stroke-width="0.4">0.025</text>
<line x1="90" y1="1089.3" x2="90" y2="1094.3" stroke="#111" stroke-width="2.2"/>
<text x="90" y="1117.3" text-anchor="middle" font-size="16.2" fill="#333" font-weight="400" stroke="#333" stroke-width="0.4">1</text>
<line x1="127.1" y1="1089.3" x2="127.1" y2="1098.8" stroke="#111" stroke-width="2.2"/>
<line x1="148.8" y1="1089.3" x2="148.8" y2="1098.8" stroke="#111" stroke-width="2.2"/>
<line x1="164.2" y1="1089.3" x2="164.2" y2="1098.8" stroke="#111" stroke-width="2.2"/>
<line x1="176.1" y1="1089.3" x2="176.1" y2="1098.8" stroke="#111" stroke-width="2.2"/>
<line x1="185.9" y1="1089.3" x2="185.9" y2="1098.8" stroke="#111" stroke-width="2.2"/>
<line x1="194.1" y1="1089.3" x2="194.1" y2="1098.8" stroke="#111" stroke-width="2.2"/>
<line x1="201.3" y1="1089.3" x2="201.3" y2="1098.8" stroke="#111" stroke-width="2.2"/>
<line x1="207.6" y1="1089.3" x2="207.6" y2="1098.8" stroke="#111" stroke-width="2.2"/>
<line x1="213.2" y1="1089.3" x2="213.2" y2="1094.3" stroke="#111" stroke-width="2.2"/>
<text x="213.2" y="1117.3" text-anchor="middle" font-size="16.2" fill="#333" font-weight="400" stroke="#333" stroke-width="0.4">10</text>
<line x1="250.3" y1="1089.3" x2="250.3" y2="1098.8" stroke="#111" stroke-width="2.2"/>
<line x1="272" y1="1089.3" x2="272" y2="1098.8" stroke="#111" stroke-width="2.2"/>
<line x1="287.4" y1="1089.3" x2="287.4" y2="1098.8" stroke="#111" stroke-width="2.2"/>
<line x1="299.3" y1="1089.3" x2="299.3" y2="1098.8" stroke="#111" stroke-width="2.2"/>
<line x1="309.1" y1="1089.3" x2="309.1" y2="1098.8" stroke="#111" stroke-width="2.2"/>
<line x1="317.3" y1="1089.3" x2="317.3" y2="1098.8" stroke="#111" stroke-width="2.2"/>
<line x1="324.5" y1="1089.3" x2="324.5" y2="1098.8" stroke="#111" stroke-width="2.2"/>
<line x1="330.8" y1="1089.3" x2="330.8" y2="1098.8" stroke="#111" stroke-width="2.2"/>
<line x1="336.4" y1="1089.3" x2="336.4" y2="1094.3" stroke="#111" stroke-width="2.2"/>
<text x="336.4" y="1117.3" text-anchor="middle" font-size="16.2" fill="#333" font-weight="400" stroke="#333" stroke-width="0.4">100</text>
<line x1="373.5" y1="1089.3" x2="373.5" y2="1098.8" stroke="#111" stroke-width="2.2"/>
<line x1="395.2" y1="1089.3" x2="395.2" y2="1098.8" stroke="#111" stroke-width="2.2"/>
<line x1="410.6" y1="1089.3" x2="410.6" y2="1098.8" stroke="#111" stroke-width="2.2"/>
<line x1="422.5" y1="1089.3" x2="422.5" y2="1098.8" stroke="#111" stroke-width="2.2"/>
<line x1="432.3" y1="1089.3" x2="432.3" y2="1098.8" stroke="#111" stroke-width="2.2"/>
<line x1="440.5" y1="1089.3" x2="440.5" y2="1098.8" stroke="#111" stroke-width="2.2"/>
<line x1="447.7" y1="1089.3" x2="447.7" y2="1098.8" stroke="#111" stroke-width="2.2"/>
<line x1="454" y1="1089.3" x2="454" y2="1098.8" stroke="#111" stroke-width="2.2"/>
<line x1="459.6" y1="1089.3" x2="459.6" y2="1094.3" stroke="#111" stroke-width="2.2"/>
<text x="459.6" y="1117.3" text-anchor="middle" font-size="16.2" fill="#333" font-weight="400" stroke="#333" stroke-width="0.4">1,000</text>
<line x1="496.7" y1="1089.3" x2="496.7" y2="1098.8" stroke="#111" stroke-width="2.2"/>
<line x1="518.4" y1="1089.3" x2="518.4" y2="1098.8" stroke="#111" stroke-width="2.2"/>
<line x1="533.8" y1="1089.3" x2="533.8" y2="1098.8" stroke="#111" stroke-width="2.2"/>
<line x1="545.7" y1="1089.3" x2="545.7" y2="1098.8" stroke="#111" stroke-width="2.2"/>
<line x1="555.5" y1="1089.3" x2="555.5" y2="1098.8" stroke="#111" stroke-width="2.2"/>
<line x1="563.7" y1="1089.3" x2="563.7" y2="1098.8" stroke="#111" stroke-width="2.2"/>
<line x1="570.9" y1="1089.3" x2="570.9" y2="1098.8" stroke="#111" stroke-width="2.2"/>
<line x1="577.2" y1="1089.3" x2="577.2" y2="1098.8" stroke="#111" stroke-width="2.2"/>
<line x1="582.8" y1="1089.3" x2="582.8" y2="1094.3" stroke="#111" stroke-width="2.2"/>
<text x="582.8" y="1117.3" text-anchor="middle" font-size="16.2" fill="#333" font-weight="400" stroke="#333" stroke-width="0.4">10,000</text>
<text x="336.5" y="1140" text-anchor="middle" font-size="20" fill="#151515" font-weight="400" stroke="#151515" stroke-width="0.3">D (A)</text>
<text transform="translate(28.6,843.4) rotate(-90)" text-anchor="middle" font-size="19" fill="#151515" font-weight="400" stroke="#151515" stroke-width="0.3">dV/dD (cm<tspan font-size="15.2" dy="-8">3</tspan><tspan dy="8">/g·</tspan><tspan font-family='"Liberation Serif", serif' fill="#7a7a7a" stroke="none" font-size="18.1">A</tspan><tspan font-size="11.8" fill="#888" stroke="none" dx="-8.9" dy="-9.5">°</tspan><tspan dx="4.2" dy="9.5">)</tspan></text>
<text x="104.5" y="635" font-size="24" font-weight="700" fill="#111" stroke="#111" stroke-width="0">c</text>
<rect x="280.4" y="590.4" width="308.4" height="56.8" fill="#fff" stroke="#d0d0d0" stroke-width="1"/>
<line x1="290" y1="611.5" x2="362.7" y2="611.5" stroke="#ad3aa8" stroke-width="2.2"/>
<circle cx="290" cy="611.5" r="3.8" fill="#ad3aa8"/>
<circle cx="326.2" cy="611.5" r="3.8" fill="#ad3aa8"/>
<circle cx="362.7" cy="611.5" r="3.8" fill="#ad3aa8"/>
<line x1="290" y1="632.1" x2="362.7" y2="632.1" stroke="#707070" stroke-width="1" stroke-dasharray="1.1 1.1"/>
<circle cx="290" cy="632.1" r="3.6" fill="none" stroke="#c070bd" stroke-width="1"/>
<circle cx="326.2" cy="632.1" r="3.6" fill="none" stroke="#c070bd" stroke-width="1"/>
<circle cx="362.7" cy="632.1" r="3.6" fill="none" stroke="#c070bd" stroke-width="1"/>
<text x="373.4" y="616" font-size="13.3" fill="#474747" font-weight="400">ST_CD_1 h HK analysis (N<tspan font-size="8.6" dy="2.7">2</tspan><tspan dy="-2.7">)</tspan></text>
<text x="373.4" y="636.6" font-size="13.3" fill="#474747" font-weight="400">ST_CD_1 h Dv(R) analysis (SAXS)</text>
<polyline points="126.9,921.5 163.9,850 185.5,783.4 201,728.1 213.1,689.7 223.1,673.8 231.3,681.1 238.2,710.1 244.4,754.9 250.3,807.7 255.4,859.9 259.9,902.5 264.3,929 268.1,936.2 271.9,924.7 275.3,898.7 278.4,863.9 281.5,827.9 284.5,797.7 287.1,777.8 289.6,770.9 292.4,777 294.7,793.5 297.1,815.9 299.5,839.5 301.4,859.6 303.8,872.3 306.1,878.8 308.5,874 310.7,861.5 312.7,850.4 314.6,840.9 316.8,834.2 318.9,834.9 321.1,839.5 322.8,846.1 323.5,853.9 325,862.9 326.1,872 327.1,881.4 328.3,891.7 329.7,902.4 331.1,914.2 331.9,926.9 332.8,939.7 334.2,951.5 334.8,962.9 335.9,971.1 337.6,977.7 339.3,979.8 341.4,971.5 342.4,963.9 343.5,958.4 345,951 346.2,948.7 347.6,945.2 348.6,948 349.7,952.2 351,957 352.5,961.8 354,960 355.6,957.5 357.3,956.3 358.5,958.5 359.4,961.1 359,966.7 359.4,972.5 359.7,979.8 360.4,986.7 361.4,993.6 362.4,998 363.5,1000.5 364.8,999 366.5,994 367.7,988.1 367.7,980.5 368,971.5 369,959.1 369,948 369.7,934.2 370.1,921.1 370.8,910 371.5,903.8 372.2,906 373.2,917.3 373.9,945.2 373.9,993.6" fill="none" stroke="#707070" stroke-width="1" stroke-dasharray="1.1 1.1"/>
<circle cx="126.9" cy="921.5" r="3.9" fill="none" stroke="#c070bd" stroke-width="1"/>
<circle cx="163.9" cy="850" r="3.9" fill="none" stroke="#c070bd" stroke-width="1"/>
<circle cx="185.5" cy="783.4" r="3.9" fill="none" stroke="#c070bd" stroke-width="1"/>
<circle cx="201" cy="728.1" r="3.9" fill="none" stroke="#c070bd" stroke-width="1"/>
<circle cx="213.1" cy="689.7" r="3.9" fill="none" stroke="#c070bd" stroke-width="1"/>
<circle cx="223.1" cy="673.8" r="3.9" fill="none" stroke="#c070bd" stroke-width="1"/>
<circle cx="231.3" cy="681.1" r="3.9" fill="none" stroke="#c070bd" stroke-width="1"/>
<circle cx="238.2" cy="710.1" r="3.9" fill="none" stroke="#c070bd" stroke-width="1"/>
<circle cx="244.4" cy="754.9" r="3.9" fill="none" stroke="#c070bd" stroke-width="1"/>
<circle cx="250.3" cy="807.7" r="3.9" fill="none" stroke="#c070bd" stroke-width="1"/>
<circle cx="255.4" cy="859.9" r="3.9" fill="none" stroke="#c070bd" stroke-width="1"/>
<circle cx="259.9" cy="902.5" r="3.9" fill="none" stroke="#c070bd" stroke-width="1"/>
<circle cx="264.3" cy="929" r="3.9" fill="none" stroke="#c070bd" stroke-width="1"/>
<circle cx="268.1" cy="936.2" r="3.9" fill="none" stroke="#c070bd" stroke-width="1"/>
<circle cx="271.9" cy="924.7" r="3.9" fill="none" stroke="#c070bd" stroke-width="1"/>
<circle cx="275.3" cy="898.7" r="3.9" fill="none" stroke="#c070bd" stroke-width="1"/>
<circle cx="278.4" cy="863.9" r="3.9" fill="none" stroke="#c070bd" stroke-width="1"/>
<circle cx="281.5" cy="827.9" r="3.9" fill="none" stroke="#c070bd" stroke-width="1"/>
<circle cx="284.5" cy="797.7" r="3.9" fill="none" stroke="#c070bd" stroke-width="1"/>
<circle cx="287.1" cy="777.8" r="3.9" fill="none" stroke="#c070bd" stroke-width="1"/>
<circle cx="289.6" cy="770.9" r="3.9" fill="none" stroke="#c070bd" stroke-width="1"/>
<circle cx="292.4" cy="777" r="3.9" fill="none" stroke="#c070bd" stroke-width="1"/>
<circle cx="294.7" cy="793.5" r="3.9" fill="none" stroke="#c070bd" stroke-width="1"/>
<circle cx="297.1" cy="815.9" r="3.9" fill="none" stroke="#c070bd" stroke-width="1"/>
<circle cx="299.5" cy="839.5" r="3.9" fill="none" stroke="#c070bd" stroke-width="1"/>
<circle cx="301.4" cy="859.6" r="3.9" fill="none" stroke="#c070bd" stroke-width="1"/>
<circle cx="303.8" cy="872.3" r="3.9" fill="none" stroke="#c070bd" stroke-width="1"/>
<circle cx="306.1" cy="878.8" r="3.9" fill="none" stroke="#c070bd" stroke-width="1"/>
<circle cx="308.5" cy="874" r="3.9" fill="none" stroke="#c070bd" stroke-width="1"/>
<circle cx="310.7" cy="861.5" r="3.9" fill="none" stroke="#c070bd" stroke-width="1"/>
<circle cx="312.7" cy="850.4" r="3.9" fill="none" stroke="#c070bd" stroke-width="1"/>
<circle cx="314.6" cy="840.9" r="3.9" fill="none" stroke="#c070bd" stroke-width="1"/>
<circle cx="316.8" cy="834.2" r="3.9" fill="none" stroke="#c070bd" stroke-width="1"/>
<circle cx="318.9" cy="834.9" r="3.9" fill="none" stroke="#c070bd" stroke-width="1"/>
<circle cx="321.1" cy="839.5" r="3.9" fill="none" stroke="#c070bd" stroke-width="1"/>
<circle cx="322.8" cy="846.1" r="3.9" fill="none" stroke="#c070bd" stroke-width="1"/>
<circle cx="323.5" cy="853.9" r="3.9" fill="none" stroke="#c070bd" stroke-width="1"/>
<circle cx="325" cy="862.9" r="3.9" fill="none" stroke="#c070bd" stroke-width="1"/>
<circle cx="326.1" cy="872" r="3.9" fill="none" stroke="#c070bd" stroke-width="1"/>
<circle cx="327.1" cy="881.4" r="3.9" fill="none" stroke="#c070bd" stroke-width="1"/>
<circle cx="328.3" cy="891.7" r="3.9" fill="none" stroke="#c070bd" stroke-width="1"/>
<circle cx="329.7" cy="902.4" r="3.9" fill="none" stroke="#c070bd" stroke-width="1"/>
<circle cx="331.1" cy="914.2" r="3.9" fill="none" stroke="#c070bd" stroke-width="1"/>
<circle cx="331.9" cy="926.9" r="3.9" fill="none" stroke="#c070bd" stroke-width="1"/>
<circle cx="332.8" cy="939.7" r="3.9" fill="none" stroke="#c070bd" stroke-width="1"/>
<circle cx="334.2" cy="951.5" r="3.9" fill="none" stroke="#c070bd" stroke-width="1"/>
<circle cx="334.8" cy="962.9" r="3.9" fill="none" stroke="#c070bd" stroke-width="1"/>
<circle cx="335.9" cy="971.1" r="3.9" fill="none" stroke="#c070bd" stroke-width="1"/>
<circle cx="337.6" cy="977.7" r="3.9" fill="none" stroke="#c070bd" stroke-width="1"/>
<circle cx="339.3" cy="979.8" r="3.9" fill="none" stroke="#c070bd" stroke-width="1"/>
<circle cx="341.4" cy="971.5" r="3.9" fill="none" stroke="#c070bd" stroke-width="1"/>
<circle cx="342.4" cy="963.9" r="3.9" fill="none" stroke="#c070bd" stroke-width="1"/>
<circle cx="343.5" cy="958.4" r="3.9" fill="none" stroke="#c070bd" stroke-width="1"/>
<circle cx="345" cy="951" r="3.9" fill="none" stroke="#c070bd" stroke-width="1"/>
<circle cx="346.2" cy="948.7" r="3.9" fill="none" stroke="#c070bd" stroke-width="1"/>
<circle cx="347.6" cy="945.2" r="3.9" fill="none" stroke="#c070bd" stroke-width="1"/>
<circle cx="348.6" cy="948" r="3.9" fill="none" stroke="#c070bd" stroke-width="1"/>
<circle cx="349.7" cy="952.2" r="3.9" fill="none" stroke="#c070bd" stroke-width="1"/>
<circle cx="351" cy="957" r="3.9" fill="none" stroke="#c070bd" stroke-width="1"/>
<circle cx="352.5" cy="961.8" r="3.9" fill="none" stroke="#c070bd" stroke-width="1"/>
<circle cx="354" cy="960" r="3.9" fill="none" stroke="#c070bd" stroke-width="1"/>
<circle cx="355.6" cy="957.5" r="3.9" fill="none" stroke="#c070bd" stroke-width="1"/>
<circle cx="357.3" cy="956.3" r="3.9" fill="none" stroke="#c070bd" stroke-width="1"/>
<circle cx="358.5" cy="958.5" r="3.9" fill="none" stroke="#c070bd" stroke-width="1"/>
<circle cx="359.4" cy="961.1" r="3.9" fill="none" stroke="#c070bd" stroke-width="1"/>
<circle cx="359" cy="966.7" r="3.9" fill="none" stroke="#c070bd" stroke-width="1"/>
<circle cx="359.4" cy="972.5" r="3.9" fill="none" stroke="#c070bd" stroke-width="1"/>
<circle cx="359.7" cy="979.8" r="3.9" fill="none" stroke="#c070bd" stroke-width="1"/>
<circle cx="360.4" cy="986.7" r="3.9" fill="none" stroke="#c070bd" stroke-width="1"/>
<circle cx="361.4" cy="993.6" r="3.9" fill="none" stroke="#c070bd" stroke-width="1"/>
<circle cx="362.4" cy="998" r="3.9" fill="none" stroke="#c070bd" stroke-width="1"/>
<circle cx="363.5" cy="1000.5" r="3.9" fill="none" stroke="#c070bd" stroke-width="1"/>
<circle cx="364.8" cy="999" r="3.9" fill="none" stroke="#c070bd" stroke-width="1"/>
<circle cx="366.5" cy="994" r="3.9" fill="none" stroke="#c070bd" stroke-width="1"/>
<circle cx="367.7" cy="988.1" r="3.9" fill="none" stroke="#c070bd" stroke-width="1"/>
<circle cx="367.7" cy="980.5" r="3.9" fill="none" stroke="#c070bd" stroke-width="1"/>
<circle cx="368" cy="971.5" r="3.9" fill="none" stroke="#c070bd" stroke-width="1"/>
<circle cx="369" cy="959.1" r="3.9" fill="none" stroke="#c070bd" stroke-width="1"/>
<circle cx="369" cy="948" r="3.9" fill="none" stroke="#c070bd" stroke-width="1"/>
<circle cx="369.7" cy="934.2" r="3.9" fill="none" stroke="#c070bd" stroke-width="1"/>
<circle cx="370.1" cy="921.1" r="3.9" fill="none" stroke="#c070bd" stroke-width="1"/>
<circle cx="370.8" cy="910" r="3.9" fill="none" stroke="#c070bd" stroke-width="1"/>
<circle cx="371.5" cy="903.8" r="3.9" fill="none" stroke="#c070bd" stroke-width="1"/>
<circle cx="372.2" cy="906" r="3.9" fill="none" stroke="#c070bd" stroke-width="1"/>
<circle cx="373.2" cy="917.3" r="3.9" fill="none" stroke="#c070bd" stroke-width="1"/>
<circle cx="373.9" cy="945.2" r="3.9" fill="none" stroke="#c070bd" stroke-width="1"/>
<circle cx="373.9" cy="993.6" r="3.9" fill="none" stroke="#c070bd" stroke-width="1"/>
<polyline points="244.7,819.3 252.9,685.1 259.9,829.7 266.3,841.4 272.2,886.7 278.6,868.7 284.7,891 292.3,920.2 300.5,876.3 308.1,891.3 317.9,892.9 329.2,910.8 339.1,933.4 346.6,979.1 356.3,1017.2 366.8,1051.4 379.7,1071.2 396.6,1081.7 418.9,1086.6 452.1,1088.7 468,1089.2 508.2,1089.2" fill="none" stroke="#ad3aa8" stroke-width="2.2" stroke-linejoin="round"/>
<circle cx="244.7" cy="819.3" r="4.6" fill="#ad3aa8"/>
<circle cx="252.9" cy="685.1" r="4.6" fill="#ad3aa8"/>
<circle cx="259.9" cy="829.7" r="4.6" fill="#ad3aa8"/>
<circle cx="266.3" cy="841.4" r="4.6" fill="#ad3aa8"/>
<circle cx="272.2" cy="886.7" r="4.6" fill="#ad3aa8"/>
<circle cx="278.6" cy="868.7" r="4.6" fill="#ad3aa8"/>
<circle cx="284.7" cy="891" r="4.6" fill="#ad3aa8"/>
<circle cx="292.3" cy="920.2" r="4.6" fill="#ad3aa8"/>
<circle cx="300.5" cy="876.3" r="4.6" fill="#ad3aa8"/>
<circle cx="308.1" cy="891.3" r="4.6" fill="#ad3aa8"/>
<circle cx="317.9" cy="892.9" r="4.6" fill="#ad3aa8"/>
<circle cx="329.2" cy="910.8" r="4.6" fill="#ad3aa8"/>
<circle cx="339.1" cy="933.4" r="4.6" fill="#ad3aa8"/>
<circle cx="346.6" cy="979.1" r="4.6" fill="#ad3aa8"/>
<circle cx="356.3" cy="1017.2" r="4.6" fill="#ad3aa8"/>
<circle cx="366.8" cy="1051.4" r="4.6" fill="#ad3aa8"/>
<circle cx="379.7" cy="1071.2" r="4.6" fill="#ad3aa8"/>
<circle cx="396.6" cy="1081.7" r="4.6" fill="#ad3aa8"/>
<circle cx="418.9" cy="1086.6" r="4.6" fill="#ad3aa8"/>
<circle cx="452.1" cy="1088.7" r="4.6" fill="#ad3aa8"/>
<circle cx="468" cy="1089.2" r="4.6" fill="#ad3aa8"/>
<circle cx="508.2" cy="1089.2" r="4.6" fill="#ad3aa8"/>
<line x1="683.5" y1="600" x2="683.5" y2="1095" stroke="#111" stroke-width="2.5"/>
<line x1="678.5" y1="1090" x2="1174.1" y2="1090" stroke="#111" stroke-width="2.5"/>
<line x1="678" y1="1090" x2="683.5" y2="1090" stroke="#111" stroke-width="2.2"/>
<text x="671" y="1096.8" text-anchor="end" font-size="16" fill="#333" font-weight="400" stroke="#333" stroke-width="0.5">0</text>
<line x1="678" y1="967.7" x2="683.5" y2="967.7" stroke="#111" stroke-width="2.2"/>
<text x="671" y="974.5" text-anchor="end" font-size="16" fill="#333" font-weight="400" stroke="#333" stroke-width="0.5">0.01</text>
<line x1="678" y1="845" x2="683.5" y2="845" stroke="#111" stroke-width="2.2"/>
<text x="671" y="851.8" text-anchor="end" font-size="16" fill="#333" font-weight="400" stroke="#333" stroke-width="0.5">0.02</text>
<line x1="678" y1="723.1" x2="683.5" y2="723.1" stroke="#111" stroke-width="2.2"/>
<text x="671" y="729.9" text-anchor="end" font-size="16" fill="#333" font-weight="400" stroke="#333" stroke-width="0.5">0.03</text>
<line x1="678" y1="601" x2="683.5" y2="601" stroke="#111" stroke-width="2.2"/>
<text x="671" y="607.8" text-anchor="end" font-size="16" fill="#333" font-weight="400" stroke="#333" stroke-width="0.5">0.04</text>
<line x1="683.5" y1="1090" x2="683.5" y2="1095" stroke="#111" stroke-width="2.2"/>
<text x="683.5" y="1118" text-anchor="middle" font-size="16" fill="#333" font-weight="400" stroke="#333" stroke-width="0.5">1</text>
<line x1="720.3" y1="1090" x2="720.3" y2="1099.5" stroke="#111" stroke-width="2.2"/>
<line x1="741.9" y1="1090" x2="741.9" y2="1099.5" stroke="#111" stroke-width="2.2"/>
<line x1="757.2" y1="1090" x2="757.2" y2="1099.5" stroke="#111" stroke-width="2.2"/>
<line x1="769.1" y1="1090" x2="769.1" y2="1099.5" stroke="#111" stroke-width="2.2"/>
<line x1="778.7" y1="1090" x2="778.7" y2="1099.5" stroke="#111" stroke-width="2.2"/>
<line x1="786.9" y1="1090" x2="786.9" y2="1099.5" stroke="#111" stroke-width="2.2"/>
<line x1="794" y1="1090" x2="794" y2="1099.5" stroke="#111" stroke-width="2.2"/>
<line x1="800.3" y1="1090" x2="800.3" y2="1099.5" stroke="#111" stroke-width="2.2"/>
<line x1="805.9" y1="1090" x2="805.9" y2="1095" stroke="#111" stroke-width="2.2"/>
<text x="805.9" y="1118" text-anchor="middle" font-size="16" fill="#333" font-weight="400" stroke="#333" stroke-width="0.5">10</text>
<line x1="842.7" y1="1090" x2="842.7" y2="1099.5" stroke="#111" stroke-width="2.2"/>
<line x1="864.3" y1="1090" x2="864.3" y2="1099.5" stroke="#111" stroke-width="2.2"/>
<line x1="879.6" y1="1090" x2="879.6" y2="1099.5" stroke="#111" stroke-width="2.2"/>
<line x1="891.5" y1="1090" x2="891.5" y2="1099.5" stroke="#111" stroke-width="2.2"/>
<line x1="901.1" y1="1090" x2="901.1" y2="1099.5" stroke="#111" stroke-width="2.2"/>
<line x1="909.3" y1="1090" x2="909.3" y2="1099.5" stroke="#111" stroke-width="2.2"/>
<line x1="916.4" y1="1090" x2="916.4" y2="1099.5" stroke="#111" stroke-width="2.2"/>
<line x1="922.7" y1="1090" x2="922.7" y2="1099.5" stroke="#111" stroke-width="2.2"/>
<line x1="928.3" y1="1090" x2="928.3" y2="1095" stroke="#111" stroke-width="2.2"/>
<text x="928.3" y="1118" text-anchor="middle" font-size="16" fill="#333" font-weight="400" stroke="#333" stroke-width="0.5">100</text>
<line x1="965.1" y1="1090" x2="965.1" y2="1099.5" stroke="#111" stroke-width="2.2"/>
<line x1="986.7" y1="1090" x2="986.7" y2="1099.5" stroke="#111" stroke-width="2.2"/>
<line x1="1002" y1="1090" x2="1002" y2="1099.5" stroke="#111" stroke-width="2.2"/>
<line x1="1013.9" y1="1090" x2="1013.9" y2="1099.5" stroke="#111" stroke-width="2.2"/>
<line x1="1023.5" y1="1090" x2="1023.5" y2="1099.5" stroke="#111" stroke-width="2.2"/>
<line x1="1031.7" y1="1090" x2="1031.7" y2="1099.5" stroke="#111" stroke-width="2.2"/>
<line x1="1038.8" y1="1090" x2="1038.8" y2="1099.5" stroke="#111" stroke-width="2.2"/>
<line x1="1045.1" y1="1090" x2="1045.1" y2="1099.5" stroke="#111" stroke-width="2.2"/>
<line x1="1050.7" y1="1090" x2="1050.7" y2="1095" stroke="#111" stroke-width="2.2"/>
<text x="1050.7" y="1118" text-anchor="middle" font-size="16" fill="#333" font-weight="400" stroke="#333" stroke-width="0.5">1,000</text>
<line x1="1087.5" y1="1090" x2="1087.5" y2="1099.5" stroke="#111" stroke-width="2.2"/>
<line x1="1109.1" y1="1090" x2="1109.1" y2="1099.5" stroke="#111" stroke-width="2.2"/>
<line x1="1124.4" y1="1090" x2="1124.4" y2="1099.5" stroke="#111" stroke-width="2.2"/>
<line x1="1136.3" y1="1090" x2="1136.3" y2="1099.5" stroke="#111" stroke-width="2.2"/>
<line x1="1145.9" y1="1090" x2="1145.9" y2="1099.5" stroke="#111" stroke-width="2.2"/>
<line x1="1154.1" y1="1090" x2="1154.1" y2="1099.5" stroke="#111" stroke-width="2.2"/>
<line x1="1161.2" y1="1090" x2="1161.2" y2="1099.5" stroke="#111" stroke-width="2.2"/>
<line x1="1167.5" y1="1090" x2="1167.5" y2="1099.5" stroke="#111" stroke-width="2.2"/>
<line x1="1173.1" y1="1090" x2="1173.1" y2="1095" stroke="#111" stroke-width="2.2"/>
<text x="1173.1" y="1118" text-anchor="middle" font-size="16" fill="#333" font-weight="400" stroke="#333" stroke-width="0.5">10,000</text>
<text x="928.9" y="1139.6" text-anchor="middle" font-size="19.6" fill="#151515" font-weight="400" stroke="#151515" stroke-width="0.3">D (A)</text>
<text transform="translate(632.2,846) rotate(-90)" text-anchor="middle" font-size="19" fill="#151515" font-weight="400" stroke="#151515" stroke-width="0.3">dV/dD (cm<tspan font-size="15.2" dy="-8">3</tspan><tspan dy="8">/g·</tspan><tspan font-family='"Liberation Serif", serif' fill="#7a7a7a" stroke="none" font-size="18.1">A</tspan><tspan font-size="11.8" fill="#888" stroke="none" dx="-8.9" dy="-9.5">°</tspan><tspan dx="4.2" dy="9.5">)</tspan></text>
<text x="706.5" y="635.2" font-size="25" font-weight="400" fill="#111" stroke="#111" stroke-width="0.4">d</text>
<rect x="865.5" y="597.9" width="315.8" height="56.5" fill="#fff" stroke="#d0d0d0" stroke-width="1"/>
<line x1="876" y1="618.3" x2="949.5" y2="618.3" stroke="#000000" stroke-width="2.0"/>
<circle cx="876" cy="618.3" r="3.8" fill="#000000"/>
<circle cx="912.7" cy="618.3" r="3.8" fill="#000000"/>
<circle cx="949.5" cy="618.3" r="3.8" fill="#000000"/>
<line x1="876" y1="639.5" x2="949.5" y2="639.5" stroke="#707070" stroke-width="1" stroke-dasharray="1.1 1.1"/>
<circle cx="876" cy="639.5" r="3.6" fill="none" stroke="#2a2a2a" stroke-width="1"/>
<circle cx="912.7" cy="639.5" r="3.6" fill="none" stroke="#2a2a2a" stroke-width="1"/>
<circle cx="949.5" cy="639.5" r="3.6" fill="none" stroke="#2a2a2a" stroke-width="1"/>
<text x="960.2" y="622.9" font-size="13.6" fill="#474747" font-weight="400">ST_CD_3 h HK analysis (N<tspan font-size="8.8" dy="2.7">2</tspan><tspan dy="-2.7">)</tspan></text>
<text x="960.2" y="644.1" font-size="13.6" fill="#474747" font-weight="400">ST_CD_3 h Dv(R) analysis (SAXS)</text>
<polyline points="720.8,996.4 757.5,917.2 779.2,842.7 794.5,779.5 806.2,734.1 816.4,711.2 824.2,713.2 831.5,738.4 837.5,781.7 843.8,834.9 848.1,888.7 853,934.7 857.1,964.6 861,973.2 864.9,960.7 868.2,930.3 871.4,887.8 874.5,841.8 877.2,799.5 879.2,768.5 881.7,753.6 885.4,756.1 887.7,774.3 888.9,804.3 891.8,842.1 893.9,880.2 896.1,914.1 897.9,939.6 899.6,955.2 902,961.4 905.5,953.4 906.8,945.7 907.9,938.6 909.5,934 911,932.1 913,935 915.1,938.6 916.1,945.2 916.9,952.7 917.9,960.3 919.1,968.3 920.1,976.6 921.1,985.5 922.9,995.3 924.1,1006.1 925.1,1018.2 926.1,1029.8 927.2,1042.4 928.2,1052.9 929.7,1062 931,1068 932.2,1071.1 933.7,1068.5 935.2,1064 936.2,1059 937.2,1051.9 937.4,1044.9 938.2,1037.8 939.2,1030.3 939.7,1023.7 940.8,1016.7 941.5,1014 942.3,1013.7 943.8,1019 945.3,1026.8 946.3,1035.3 946.8,1043.9 947.3,1052.9 947.8,1061 949.3,1068 950.5,1064 951.5,1058 952.3,1056 953.3,1054 954.3,1057 955.4,1061 956.4,1065 957.4,1069 958.4,1075.1 959.6,1062 960.5,1052 961.4,1042.9 961.9,1029.8 962.4,1014.7 962.9,1001.6 963.9,998.6 964.4,989.5 965.4,1025.7 965.4,1064 965.4,1076.6" fill="none" stroke="#707070" stroke-width="1" stroke-dasharray="1.1 1.1"/>
<circle cx="720.8" cy="996.4" r="3.9" fill="none" stroke="#2a2a2a" stroke-width="1"/>
<circle cx="757.5" cy="917.2" r="3.9" fill="none" stroke="#2a2a2a" stroke-width="1"/>
<circle cx="779.2" cy="842.7" r="3.9" fill="none" stroke="#2a2a2a" stroke-width="1"/>
<circle cx="794.5" cy="779.5" r="3.9" fill="none" stroke="#2a2a2a" stroke-width="1"/>
<circle cx="806.2" cy="734.1" r="3.9" fill="none" stroke="#2a2a2a" stroke-width="1"/>
<circle cx="816.4" cy="711.2" r="3.9" fill="none" stroke="#2a2a2a" stroke-width="1"/>
<circle cx="824.2" cy="713.2" r="3.9" fill="none" stroke="#2a2a2a" stroke-width="1"/>
<circle cx="831.5" cy="738.4" r="3.9" fill="none" stroke="#2a2a2a" stroke-width="1"/>
<circle cx="837.5" cy="781.7" r="3.9" fill="none" stroke="#2a2a2a" stroke-width="1"/>
<circle cx="843.8" cy="834.9" r="3.9" fill="none" stroke="#2a2a2a" stroke-width="1"/>
<circle cx="848.1" cy="888.7" r="3.9" fill="none" stroke="#2a2a2a" stroke-width="1"/>
<circle cx="853" cy="934.7" r="3.9" fill="none" stroke="#2a2a2a" stroke-width="1"/>
<circle cx="857.1" cy="964.6" r="3.9" fill="none" stroke="#2a2a2a" stroke-width="1"/>
<circle cx="861" cy="973.2" r="3.9" fill="none" stroke="#2a2a2a" stroke-width="1"/>
<circle cx="864.9" cy="960.7" r="3.9" fill="none" stroke="#2a2a2a" stroke-width="1"/>
<circle cx="868.2" cy="930.3" r="3.9" fill="none" stroke="#2a2a2a" stroke-width="1"/>
<circle cx="871.4" cy="887.8" r="3.9" fill="none" stroke="#2a2a2a" stroke-width="1"/>
<circle cx="874.5" cy="841.8" r="3.9" fill="none" stroke="#2a2a2a" stroke-width="1"/>
<circle cx="877.2" cy="799.5" r="3.9" fill="none" stroke="#2a2a2a" stroke-width="1"/>
<circle cx="879.2" cy="768.5" r="3.9" fill="none" stroke="#2a2a2a" stroke-width="1"/>
<circle cx="881.7" cy="753.6" r="3.9" fill="none" stroke="#2a2a2a" stroke-width="1"/>
<circle cx="885.4" cy="756.1" r="3.9" fill="none" stroke="#2a2a2a" stroke-width="1"/>
<circle cx="887.7" cy="774.3" r="3.9" fill="none" stroke="#2a2a2a" stroke-width="1"/>
<circle cx="888.9" cy="804.3" r="3.9" fill="none" stroke="#2a2a2a" stroke-width="1"/>
<circle cx="891.8" cy="842.1" r="3.9" fill="none" stroke="#2a2a2a" stroke-width="1"/>
<circle cx="893.9" cy="880.2" r="3.9" fill="none" stroke="#2a2a2a" stroke-width="1"/>
<circle cx="896.1" cy="914.1" r="3.9" fill="none" stroke="#2a2a2a" stroke-width="1"/>
<circle cx="897.9" cy="939.6" r="3.9" fill="none" stroke="#2a2a2a" stroke-width="1"/>
<circle cx="899.6" cy="955.2" r="3.9" fill="none" stroke="#2a2a2a" stroke-width="1"/>
<circle cx="902" cy="961.4" r="3.9" fill="none" stroke="#2a2a2a" stroke-width="1"/>
<circle cx="905.5" cy="953.4" r="3.9" fill="none" stroke="#2a2a2a" stroke-width="1"/>
<circle cx="906.8" cy="945.7" r="3.9" fill="none" stroke="#2a2a2a" stroke-width="1"/>
<circle cx="907.9" cy="938.6" r="3.9" fill="none" stroke="#2a2a2a" stroke-width="1"/>
<circle cx="909.5" cy="934" r="3.9" fill="none" stroke="#2a2a2a" stroke-width="1"/>
<circle cx="911" cy="932.1" r="3.9" fill="none" stroke="#2a2a2a" stroke-width="1"/>
<circle cx="913" cy="935" r="3.9" fill="none" stroke="#2a2a2a" stroke-width="1"/>
<circle cx="915.1" cy="938.6" r="3.9" fill="none" stroke="#2a2a2a" stroke-width="1"/>
<circle cx="916.1" cy="945.2" r="3.9" fill="none" stroke="#2a2a2a" stroke-width="1"/>
<circle cx="916.9" cy="952.7" r="3.9" fill="none" stroke="#2a2a2a" stroke-width="1"/>
<circle cx="917.9" cy="960.3" r="3.9" fill="none" stroke="#2a2a2a" stroke-width="1"/>
<circle cx="919.1" cy="968.3" r="3.9" fill="none" stroke="#2a2a2a" stroke-width="1"/>
<circle cx="920.1" cy="976.6" r="3.9" fill="none" stroke="#2a2a2a" stroke-width="1"/>
<circle cx="921.1" cy="985.5" r="3.9" fill="none" stroke="#2a2a2a" stroke-width="1"/>
<circle cx="922.9" cy="995.3" r="3.9" fill="none" stroke="#2a2a2a" stroke-width="1"/>
<circle cx="924.1" cy="1006.1" r="3.9" fill="none" stroke="#2a2a2a" stroke-width="1"/>
<circle cx="925.1" cy="1018.2" r="3.9" fill="none" stroke="#2a2a2a" stroke-width="1"/>
<circle cx="926.1" cy="1029.8" r="3.9" fill="none" stroke="#2a2a2a" stroke-width="1"/>
<circle cx="927.2" cy="1042.4" r="3.9" fill="none" stroke="#2a2a2a" stroke-width="1"/>
<circle cx="928.2" cy="1052.9" r="3.9" fill="none" stroke="#2a2a2a" stroke-width="1"/>
<circle cx="929.7" cy="1062" r="3.9" fill="none" stroke="#2a2a2a" stroke-width="1"/>
<circle cx="931" cy="1068" r="3.9" fill="none" stroke="#2a2a2a" stroke-width="1"/>
<circle cx="932.2" cy="1071.1" r="3.9" fill="none" stroke="#2a2a2a" stroke-width="1"/>
<circle cx="933.7" cy="1068.5" r="3.9" fill="none" stroke="#2a2a2a" stroke-width="1"/>
<circle cx="935.2" cy="1064" r="3.9" fill="none" stroke="#2a2a2a" stroke-width="1"/>
<circle cx="936.2" cy="1059" r="3.9" fill="none" stroke="#2a2a2a" stroke-width="1"/>
<circle cx="937.2" cy="1051.9" r="3.9" fill="none" stroke="#2a2a2a" stroke-width="1"/>
<circle cx="937.4" cy="1044.9" r="3.9" fill="none" stroke="#2a2a2a" stroke-width="1"/>
<circle cx="938.2" cy="1037.8" r="3.9" fill="none" stroke="#2a2a2a" stroke-width="1"/>
<circle cx="939.2" cy="1030.3" r="3.9" fill="none" stroke="#2a2a2a" stroke-width="1"/>
<circle cx="939.7" cy="1023.7" r="3.9" fill="none" stroke="#2a2a2a" stroke-width="1"/>
<circle cx="940.8" cy="1016.7" r="3.9" fill="none" stroke="#2a2a2a" stroke-width="1"/>
<circle cx="941.5" cy="1014" r="3.9" fill="none" stroke="#2a2a2a" stroke-width="1"/>
<circle cx="942.3" cy="1013.7" r="3.9" fill="none" stroke="#2a2a2a" stroke-width="1"/>
<circle cx="943.8" cy="1019" r="3.9" fill="none" stroke="#2a2a2a" stroke-width="1"/>
<circle cx="945.3" cy="1026.8" r="3.9" fill="none" stroke="#2a2a2a" stroke-width="1"/>
<circle cx="946.3" cy="1035.3" r="3.9" fill="none" stroke="#2a2a2a" stroke-width="1"/>
<circle cx="946.8" cy="1043.9" r="3.9" fill="none" stroke="#2a2a2a" stroke-width="1"/>
<circle cx="947.3" cy="1052.9" r="3.9" fill="none" stroke="#2a2a2a" stroke-width="1"/>
<circle cx="947.8" cy="1061" r="3.9" fill="none" stroke="#2a2a2a" stroke-width="1"/>
<circle cx="949.3" cy="1068" r="3.9" fill="none" stroke="#2a2a2a" stroke-width="1"/>
<circle cx="950.5" cy="1064" r="3.9" fill="none" stroke="#2a2a2a" stroke-width="1"/>
<circle cx="951.5" cy="1058" r="3.9" fill="none" stroke="#2a2a2a" stroke-width="1"/>
<circle cx="952.3" cy="1056" r="3.9" fill="none" stroke="#2a2a2a" stroke-width="1"/>
<circle cx="953.3" cy="1054" r="3.9" fill="none" stroke="#2a2a2a" stroke-width="1"/>
<circle cx="954.3" cy="1057" r="3.9" fill="none" stroke="#2a2a2a" stroke-width="1"/>
<circle cx="955.4" cy="1061" r="3.9" fill="none" stroke="#2a2a2a" stroke-width="1"/>
<circle cx="956.4" cy="1065" r="3.9" fill="none" stroke="#2a2a2a" stroke-width="1"/>
<circle cx="957.4" cy="1069" r="3.9" fill="none" stroke="#2a2a2a" stroke-width="1"/>
<circle cx="958.4" cy="1075.1" r="3.9" fill="none" stroke="#2a2a2a" stroke-width="1"/>
<circle cx="959.6" cy="1062" r="3.9" fill="none" stroke="#2a2a2a" stroke-width="1"/>
<circle cx="960.5" cy="1052" r="3.9" fill="none" stroke="#2a2a2a" stroke-width="1"/>
<circle cx="961.4" cy="1042.9" r="3.9" fill="none" stroke="#2a2a2a" stroke-width="1"/>
<circle cx="961.9" cy="1029.8" r="3.9" fill="none" stroke="#2a2a2a" stroke-width="1"/>
<circle cx="962.4" cy="1014.7" r="3.9" fill="none" stroke="#2a2a2a" stroke-width="1"/>
<circle cx="962.9" cy="1001.6" r="3.9" fill="none" stroke="#2a2a2a" stroke-width="1"/>
<circle cx="963.9" cy="998.6" r="3.9" fill="none" stroke="#2a2a2a" stroke-width="1"/>
<circle cx="964.4" cy="989.5" r="3.9" fill="none" stroke="#2a2a2a" stroke-width="1"/>
<circle cx="965.4" cy="1025.7" r="3.9" fill="none" stroke="#2a2a2a" stroke-width="1"/>
<circle cx="965.4" cy="1064" r="3.9" fill="none" stroke="#2a2a2a" stroke-width="1"/>
<circle cx="965.4" cy="1076.6" r="3.9" fill="none" stroke="#2a2a2a" stroke-width="1"/>
<polyline points="837.9,833.5 845.8,662.1 853,801.6 859.7,805.8 864.7,842.2 871.6,805.1 877.3,813.2 885,799.8 892.7,805.2 900.7,785.5 910.5,807.9 921.1,865 931.8,917.7 938.7,972.2 948.3,1016.2 958.7,1050.2 972,1072.6 988.6,1082.5 1011.2,1087.2 1042,1088.5 1059.7,1089.4 1096.9,1089.8" fill="none" stroke="#000000" stroke-width="2.0" stroke-linejoin="round"/>
<circle cx="837.9" cy="833.5" r="4.3" fill="#000000"/>
<circle cx="845.8" cy="662.1" r="4.3" fill="#000000"/>
<circle cx="853" cy="801.6" r="4.3" fill="#000000"/>
<circle cx="859.7" cy="805.8" r="4.3" fill="#000000"/>
<circle cx="864.7" cy="842.2" r="4.3" fill="#000000"/>
<circle cx="871.6" cy="805.1" r="4.3" fill="#000000"/>
<circle cx="877.3" cy="813.2" r="4.3" fill="#000000"/>
<circle cx="885" cy="799.8" r="4.3" fill="#000000"/>
<circle cx="892.7" cy="805.2" r="4.3" fill="#000000"/>
<circle cx="900.7" cy="785.5" r="4.3" fill="#000000"/>
<circle cx="910.5" cy="807.9" r="4.3" fill="#000000"/>
<circle cx="921.1" cy="865" r="4.3" fill="#000000"/>
<circle cx="931.8" cy="917.7" r="4.3" fill="#000000"/>
<circle cx="938.7" cy="972.2" r="4.3" fill="#000000"/>
<circle cx="948.3" cy="1016.2" r="4.3" fill="#000000"/>
<circle cx="958.7" cy="1050.2" r="4.3" fill="#000000"/>
<circle cx="972" cy="1072.6" r="4.3" fill="#000000"/>
<circle cx="988.6" cy="1082.5" r="4.3" fill="#000000"/>
<circle cx="1011.2" cy="1087.2" r="4.3" fill="#000000"/>
<circle cx="1042" cy="1088.5" r="4.3" fill="#000000"/>
<circle cx="1059.7" cy="1089.4" r="4.3" fill="#000000"/>
<circle cx="1096.9" cy="1089.8" r="4.3" fill="#000000"/>
<line x1="89" y1="1186.1" x2="89" y2="1682" stroke="#111" stroke-width="2.5"/>
<line x1="84" y1="1677" x2="578.4" y2="1677" stroke="#111" stroke-width="2.5"/>
<line x1="83.5" y1="1677" x2="89" y2="1677" stroke="#111" stroke-width="2.2"/>
<text x="76.5" y="1684.6" text-anchor="end" font-size="16" fill="#333" font-weight="400" stroke="#333" stroke-width="0.4">0</text>
<line x1="83.5" y1="1578.7" x2="89" y2="1578.7" stroke="#111" stroke-width="2.2"/>
<text x="76.5" y="1586.3" text-anchor="end" font-size="16" fill="#333" font-weight="400" stroke="#333" stroke-width="0.4">0.005</text>
<line x1="83.5" y1="1480.8" x2="89" y2="1480.8" stroke="#111" stroke-width="2.2"/>
<text x="76.5" y="1488.4" text-anchor="end" font-size="16" fill="#333" font-weight="400" stroke="#333" stroke-width="0.4">0.01</text>
<line x1="83.5" y1="1383.2" x2="89" y2="1383.2" stroke="#111" stroke-width="2.2"/>
<text x="76.5" y="1390.8" text-anchor="end" font-size="16" fill="#333" font-weight="400" stroke="#333" stroke-width="0.4">0.015</text>
<line x1="83.5" y1="1285.3" x2="89" y2="1285.3" stroke="#111" stroke-width="2.2"/>
<text x="76.5" y="1292.9" text-anchor="end" font-size="16" fill="#333" font-weight="400" stroke="#333" stroke-width="0.4">0.02</text>
<line x1="83.5" y1="1187.1" x2="89" y2="1187.1" stroke="#111" stroke-width="2.2"/>
<text x="76.5" y="1194.7" text-anchor="end" font-size="16" fill="#333" font-weight="400" stroke="#333" stroke-width="0.4">0.025</text>
<line x1="89" y1="1677" x2="89" y2="1682" stroke="#111" stroke-width="2.2"/>
<text x="89" y="1705" text-anchor="middle" font-size="16" fill="#333" font-weight="400" stroke="#333" stroke-width="0.4">1</text>
<line x1="125.8" y1="1677" x2="125.8" y2="1686.5" stroke="#111" stroke-width="2.2"/>
<line x1="147.3" y1="1677" x2="147.3" y2="1686.5" stroke="#111" stroke-width="2.2"/>
<line x1="162.5" y1="1677" x2="162.5" y2="1686.5" stroke="#111" stroke-width="2.2"/>
<line x1="174.3" y1="1677" x2="174.3" y2="1686.5" stroke="#111" stroke-width="2.2"/>
<line x1="184" y1="1677" x2="184" y2="1686.5" stroke="#111" stroke-width="2.2"/>
<line x1="192.2" y1="1677" x2="192.2" y2="1686.5" stroke="#111" stroke-width="2.2"/>
<line x1="199.3" y1="1677" x2="199.3" y2="1686.5" stroke="#111" stroke-width="2.2"/>
<line x1="205.5" y1="1677" x2="205.5" y2="1686.5" stroke="#111" stroke-width="2.2"/>
<line x1="211.1" y1="1677" x2="211.1" y2="1682" stroke="#111" stroke-width="2.2"/>
<text x="211.1" y="1705" text-anchor="middle" font-size="16" fill="#333" font-weight="400" stroke="#333" stroke-width="0.4">10</text>
<line x1="247.9" y1="1677" x2="247.9" y2="1686.5" stroke="#111" stroke-width="2.2"/>
<line x1="269.4" y1="1677" x2="269.4" y2="1686.5" stroke="#111" stroke-width="2.2"/>
<line x1="284.6" y1="1677" x2="284.6" y2="1686.5" stroke="#111" stroke-width="2.2"/>
<line x1="296.4" y1="1677" x2="296.4" y2="1686.5" stroke="#111" stroke-width="2.2"/>
<line x1="306.1" y1="1677" x2="306.1" y2="1686.5" stroke="#111" stroke-width="2.2"/>
<line x1="314.3" y1="1677" x2="314.3" y2="1686.5" stroke="#111" stroke-width="2.2"/>
<line x1="321.4" y1="1677" x2="321.4" y2="1686.5" stroke="#111" stroke-width="2.2"/>
<line x1="327.6" y1="1677" x2="327.6" y2="1686.5" stroke="#111" stroke-width="2.2"/>
<line x1="333.2" y1="1677" x2="333.2" y2="1682" stroke="#111" stroke-width="2.2"/>
<text x="333.2" y="1705" text-anchor="middle" font-size="16" fill="#333" font-weight="400" stroke="#333" stroke-width="0.4">100</text>
<line x1="370" y1="1677" x2="370" y2="1686.5" stroke="#111" stroke-width="2.2"/>
<line x1="391.5" y1="1677" x2="391.5" y2="1686.5" stroke="#111" stroke-width="2.2"/>
<line x1="406.7" y1="1677" x2="406.7" y2="1686.5" stroke="#111" stroke-width="2.2"/>
<line x1="418.5" y1="1677" x2="418.5" y2="1686.5" stroke="#111" stroke-width="2.2"/>
<line x1="428.2" y1="1677" x2="428.2" y2="1686.5" stroke="#111" stroke-width="2.2"/>
<line x1="436.4" y1="1677" x2="436.4" y2="1686.5" stroke="#111" stroke-width="2.2"/>
<line x1="443.5" y1="1677" x2="443.5" y2="1686.5" stroke="#111" stroke-width="2.2"/>
<line x1="449.7" y1="1677" x2="449.7" y2="1686.5" stroke="#111" stroke-width="2.2"/>
<line x1="455.3" y1="1677" x2="455.3" y2="1682" stroke="#111" stroke-width="2.2"/>
<text x="455.3" y="1705" text-anchor="middle" font-size="16" fill="#333" font-weight="400" stroke="#333" stroke-width="0.4">1,000</text>
<line x1="492.1" y1="1677" x2="492.1" y2="1686.5" stroke="#111" stroke-width="2.2"/>
<line x1="513.6" y1="1677" x2="513.6" y2="1686.5" stroke="#111" stroke-width="2.2"/>
<line x1="528.8" y1="1677" x2="528.8" y2="1686.5" stroke="#111" stroke-width="2.2"/>
<line x1="540.6" y1="1677" x2="540.6" y2="1686.5" stroke="#111" stroke-width="2.2"/>
<line x1="550.3" y1="1677" x2="550.3" y2="1686.5" stroke="#111" stroke-width="2.2"/>
<line x1="558.5" y1="1677" x2="558.5" y2="1686.5" stroke="#111" stroke-width="2.2"/>
<line x1="565.6" y1="1677" x2="565.6" y2="1686.5" stroke="#111" stroke-width="2.2"/>
<line x1="571.8" y1="1677" x2="571.8" y2="1686.5" stroke="#111" stroke-width="2.2"/>
<line x1="577.4" y1="1677" x2="577.4" y2="1682" stroke="#111" stroke-width="2.2"/>
<text x="577.4" y="1705" text-anchor="middle" font-size="16" fill="#333" font-weight="400" stroke="#333" stroke-width="0.4">10,000</text>
<text x="333.5" y="1726.6" text-anchor="middle" font-size="19.6" fill="#151515" font-weight="400" stroke="#151515" stroke-width="0.3">D (A)</text>
<text transform="translate(28.1,1432.4) rotate(-90)" text-anchor="middle" font-size="18.8" fill="#151515" font-weight="400" stroke="#151515" stroke-width="0.3">dV/dD (cm<tspan font-size="15" dy="-7.9">3</tspan><tspan dy="7.9">/g·</tspan><tspan font-family='"Liberation Serif", serif' fill="#7a7a7a" stroke="none" font-size="17.9">A</tspan><tspan font-size="11.7" fill="#888" stroke="none" dx="-8.8" dy="-9.4">°</tspan><tspan dx="4.1" dy="9.4">)</tspan></text>
<text x="103.6" y="1216.9" font-size="25" font-weight="400" fill="#111" stroke="#111" stroke-width="0.4">e</text>
<rect x="267.9" y="1184.3" width="338.9" height="57" fill="#fff" stroke="#d0d0d0" stroke-width="1"/>
<line x1="278.9" y1="1204.7" x2="358" y2="1204.7" stroke="#3ea33a" stroke-width="2.2"/>
<circle cx="278.9" cy="1204.7" r="3.8" fill="#3ea33a"/>
<circle cx="318.2" cy="1204.7" r="3.8" fill="#3ea33a"/>
<circle cx="358" cy="1204.7" r="3.8" fill="#3ea33a"/>
<line x1="278.9" y1="1225.9" x2="358" y2="1225.9" stroke="#707070" stroke-width="1" stroke-dasharray="1.1 1.1"/>
<circle cx="278.9" cy="1225.9" r="3.8" fill="none" stroke="#6cbb68" stroke-width="1"/>
<circle cx="318.2" cy="1225.9" r="3.8" fill="none" stroke="#6cbb68" stroke-width="1"/>
<circle cx="358" cy="1225.9" r="3.8" fill="none" stroke="#6cbb68" stroke-width="1"/>
<text x="368.5" y="1209.6" font-size="14.5" fill="#474747" font-weight="400">CD_MV_1 h HK analysis (N<tspan font-size="9.4" dy="2.9">2</tspan><tspan dy="-2.9">)</tspan></text>
<text x="368.5" y="1230.8" font-size="14.5" fill="#474747" font-weight="400">CD_MV_1 h Dv(R) analysis (SAXS)</text>
<polyline points="126.1,1502.4 162.6,1424.8 184.4,1354.4 199.5,1300.3 211.3,1271 221,1272.3 229.2,1304.4 236.1,1362 242,1435.5 248.1,1512.4 253,1579.7 257.7,1627 261.8,1648.4 266,1643.3 269.5,1617.1 273.2,1579.1 276.4,1538.6 279.3,1505 281.8,1486 284.6,1483.4 287.5,1497 289.8,1521.7 292.2,1551.2 294.5,1579.5 296.6,1600.6 298.9,1615.2 301,1612 303,1608 304.9,1595.3 306.1,1579.7 308,1564.3 309.4,1551.2 311.2,1541.7 312.8,1534.7 315.1,1531.6 317.9,1537.3 319.8,1544.3 321.7,1552.2 323,1560.1 324.3,1568.3 325.5,1575.9 326.8,1581.9 328.7,1586.7 330,1588 331.2,1588 332.8,1587.5 334.4,1586.7 336,1586 337.6,1584.8 340.1,1581.6 342,1577.2 343.2,1575 344.5,1573.4 345.8,1574.5 347.1,1576.6 349,1580.4 350.2,1583 351.5,1585.4 352.5,1584 353.4,1581.6 354.7,1570.2 355.3,1558.8 355.9,1550 356.8,1546 357.8,1543.6 358.5,1547 359.1,1552.5 359.7,1565.2 361,1578.5 361,1591.8 361.4,1604.4 361.8,1610 362.3,1614.6 363.5,1612 364.8,1608.9 365.4,1600 366.1,1590.5 366.7,1579.1 367.3,1570.2 368,1561.4 368.6,1553.8 369.2,1546.8 369.9,1557.6 370.5,1581.6" fill="none" stroke="#707070" stroke-width="1" stroke-dasharray="1.1 1.1"/>
<circle cx="126.1" cy="1502.4" r="3.9" fill="none" stroke="#6cbb68" stroke-width="1"/>
<circle cx="162.6" cy="1424.8" r="3.9" fill="none" stroke="#6cbb68" stroke-width="1"/>
<circle cx="184.4" cy="1354.4" r="3.9" fill="none" stroke="#6cbb68" stroke-width="1"/>
<circle cx="199.5" cy="1300.3" r="3.9" fill="none" stroke="#6cbb68" stroke-width="1"/>
<circle cx="211.3" cy="1271" r="3.9" fill="none" stroke="#6cbb68" stroke-width="1"/>
<circle cx="221" cy="1272.3" r="3.9" fill="none" stroke="#6cbb68" stroke-width="1"/>
<circle cx="229.2" cy="1304.4" r="3.9" fill="none" stroke="#6cbb68" stroke-width="1"/>
<circle cx="236.1" cy="1362" r="3.9" fill="none" stroke="#6cbb68" stroke-width="1"/>
<circle cx="242" cy="1435.5" r="3.9" fill="none" stroke="#6cbb68" stroke-width="1"/>
<circle cx="248.1" cy="1512.4" r="3.9" fill="none" stroke="#6cbb68" stroke-width="1"/>
<circle cx="253" cy="1579.7" r="3.9" fill="none" stroke="#6cbb68" stroke-width="1"/>
<circle cx="257.7" cy="1627" r="3.9" fill="none" stroke="#6cbb68" stroke-width="1"/>
<circle cx="261.8" cy="1648.4" r="3.9" fill="none" stroke="#6cbb68" stroke-width="1"/>
<circle cx="266" cy="1643.3" r="3.9" fill="none" stroke="#6cbb68" stroke-width="1"/>
<circle cx="269.5" cy="1617.1" r="3.9" fill="none" stroke="#6cbb68" stroke-width="1"/>
<circle cx="273.2" cy="1579.1" r="3.9" fill="none" stroke="#6cbb68" stroke-width="1"/>
<circle cx="276.4" cy="1538.6" r="3.9" fill="none" stroke="#6cbb68" stroke-width="1"/>
<circle cx="279.3" cy="1505" r="3.9" fill="none" stroke="#6cbb68" stroke-width="1"/>
<circle cx="281.8" cy="1486" r="3.9" fill="none" stroke="#6cbb68" stroke-width="1"/>
<circle cx="284.6" cy="1483.4" r="3.9" fill="none" stroke="#6cbb68" stroke-width="1"/>
<circle cx="287.5" cy="1497" r="3.9" fill="none" stroke="#6cbb68" stroke-width="1"/>
<circle cx="289.8" cy="1521.7" r="3.9" fill="none" stroke="#6cbb68" stroke-width="1"/>
<circle cx="292.2" cy="1551.2" r="3.9" fill="none" stroke="#6cbb68" stroke-width="1"/>
<circle cx="294.5" cy="1579.5" r="3.9" fill="none" stroke="#6cbb68" stroke-width="1"/>
<circle cx="296.6" cy="1600.6" r="3.9" fill="none" stroke="#6cbb68" stroke-width="1"/>
<circle cx="298.9" cy="1615.2" r="3.9" fill="none" stroke="#6cbb68" stroke-width="1"/>
<circle cx="301" cy="1612" r="3.9" fill="none" stroke="#6cbb68" stroke-width="1"/>
<circle cx="303" cy="1608" r="3.9" fill="none" stroke="#6cbb68" stroke-width="1"/>
<circle cx="304.9" cy="1595.3" r="3.9" fill="none" stroke="#6cbb68" stroke-width="1"/>
<circle cx="306.1" cy="1579.7" r="3.9" fill="none" stroke="#6cbb68" stroke-width="1"/>
<circle cx="308" cy="1564.3" r="3.9" fill="none" stroke="#6cbb68" stroke-width="1"/>
<circle cx="309.4" cy="1551.2" r="3.9" fill="none" stroke="#6cbb68" stroke-width="1"/>
<circle cx="311.2" cy="1541.7" r="3.9" fill="none" stroke="#6cbb68" stroke-width="1"/>
<circle cx="312.8" cy="1534.7" r="3.9" fill="none" stroke="#6cbb68" stroke-width="1"/>
<circle cx="315.1" cy="1531.6" r="3.9" fill="none" stroke="#6cbb68" stroke-width="1"/>
<circle cx="317.9" cy="1537.3" r="3.9" fill="none" stroke="#6cbb68" stroke-width="1"/>
<circle cx="319.8" cy="1544.3" r="3.9" fill="none" stroke="#6cbb68" stroke-width="1"/>
<circle cx="321.7" cy="1552.2" r="3.9" fill="none" stroke="#6cbb68" stroke-width="1"/>
<circle cx="323" cy="1560.1" r="3.9" fill="none" stroke="#6cbb68" stroke-width="1"/>
<circle cx="324.3" cy="1568.3" r="3.9" fill="none" stroke="#6cbb68" stroke-width="1"/>
<circle cx="325.5" cy="1575.9" r="3.9" fill="none" stroke="#6cbb68" stroke-width="1"/>
<circle cx="326.8" cy="1581.9" r="3.9" fill="none" stroke="#6cbb68" stroke-width="1"/>
<circle cx="328.7" cy="1586.7" r="3.9" fill="none" stroke="#6cbb68" stroke-width="1"/>
<circle cx="330" cy="1588" r="3.9" fill="none" stroke="#6cbb68" stroke-width="1"/>
<circle cx="331.2" cy="1588" r="3.9" fill="none" stroke="#6cbb68" stroke-width="1"/>
<circle cx="332.8" cy="1587.5" r="3.9" fill="none" stroke="#6cbb68" stroke-width="1"/>
<circle cx="334.4" cy="1586.7" r="3.9" fill="none" stroke="#6cbb68" stroke-width="1"/>
<circle cx="336" cy="1586" r="3.9" fill="none" stroke="#6cbb68" stroke-width="1"/>
<circle cx="337.6" cy="1584.8" r="3.9" fill="none" stroke="#6cbb68" stroke-width="1"/>
<circle cx="340.1" cy="1581.6" r="3.9" fill="none" stroke="#6cbb68" stroke-width="1"/>
<circle cx="342" cy="1577.2" r="3.9" fill="none" stroke="#6cbb68" stroke-width="1"/>
<circle cx="343.2" cy="1575" r="3.9" fill="none" stroke="#6cbb68" stroke-width="1"/>
<circle cx="344.5" cy="1573.4" r="3.9" fill="none" stroke="#6cbb68" stroke-width="1"/>
<circle cx="345.8" cy="1574.5" r="3.9" fill="none" stroke="#6cbb68" stroke-width="1"/>
<circle cx="347.1" cy="1576.6" r="3.9" fill="none" stroke="#6cbb68" stroke-width="1"/>
<circle cx="349" cy="1580.4" r="3.9" fill="none" stroke="#6cbb68" stroke-width="1"/>
<circle cx="350.2" cy="1583" r="3.9" fill="none" stroke="#6cbb68" stroke-width="1"/>
<circle cx="351.5" cy="1585.4" r="3.9" fill="none" stroke="#6cbb68" stroke-width="1"/>
<circle cx="352.5" cy="1584" r="3.9" fill="none" stroke="#6cbb68" stroke-width="1"/>
<circle cx="353.4" cy="1581.6" r="3.9" fill="none" stroke="#6cbb68" stroke-width="1"/>
<circle cx="354.7" cy="1570.2" r="3.9" fill="none" stroke="#6cbb68" stroke-width="1"/>
<circle cx="355.3" cy="1558.8" r="3.9" fill="none" stroke="#6cbb68" stroke-width="1"/>
<circle cx="355.9" cy="1550" r="3.9" fill="none" stroke="#6cbb68" stroke-width="1"/>
<circle cx="356.8" cy="1546" r="3.9" fill="none" stroke="#6cbb68" stroke-width="1"/>
<circle cx="357.8" cy="1543.6" r="3.9" fill="none" stroke="#6cbb68" stroke-width="1"/>
<circle cx="358.5" cy="1547" r="3.9" fill="none" stroke="#6cbb68" stroke-width="1"/>
<circle cx="359.1" cy="1552.5" r="3.9" fill="none" stroke="#6cbb68" stroke-width="1"/>
<circle cx="359.7" cy="1565.2" r="3.9" fill="none" stroke="#6cbb68" stroke-width="1"/>
<circle cx="361" cy="1578.5" r="3.9" fill="none" stroke="#6cbb68" stroke-width="1"/>
<circle cx="361" cy="1591.8" r="3.9" fill="none" stroke="#6cbb68" stroke-width="1"/>
<circle cx="361.4" cy="1604.4" r="3.9" fill="none" stroke="#6cbb68" stroke-width="1"/>
<circle cx="361.8" cy="1610" r="3.9" fill="none" stroke="#6cbb68" stroke-width="1"/>
<circle cx="362.3" cy="1614.6" r="3.9" fill="none" stroke="#6cbb68" stroke-width="1"/>
<circle cx="363.5" cy="1612" r="3.9" fill="none" stroke="#6cbb68" stroke-width="1"/>
<circle cx="364.8" cy="1608.9" r="3.9" fill="none" stroke="#6cbb68" stroke-width="1"/>
<circle cx="365.4" cy="1600" r="3.9" fill="none" stroke="#6cbb68" stroke-width="1"/>
<circle cx="366.1" cy="1590.5" r="3.9" fill="none" stroke="#6cbb68" stroke-width="1"/>
<circle cx="366.7" cy="1579.1" r="3.9" fill="none" stroke="#6cbb68" stroke-width="1"/>
<circle cx="367.3" cy="1570.2" r="3.9" fill="none" stroke="#6cbb68" stroke-width="1"/>
<circle cx="368" cy="1561.4" r="3.9" fill="none" stroke="#6cbb68" stroke-width="1"/>
<circle cx="368.6" cy="1553.8" r="3.9" fill="none" stroke="#6cbb68" stroke-width="1"/>
<circle cx="369.2" cy="1546.8" r="3.9" fill="none" stroke="#6cbb68" stroke-width="1"/>
<circle cx="369.9" cy="1557.6" r="3.9" fill="none" stroke="#6cbb68" stroke-width="1"/>
<circle cx="370.5" cy="1581.6" r="3.9" fill="none" stroke="#6cbb68" stroke-width="1"/>
<polyline points="242,1390 250.6,1264.6 257.5,1437.7 263.8,1472.2 269.5,1536.3 276.2,1551.7 283.3,1581.9 290,1611 297.6,1609.9 306.1,1632.6 315.4,1640.8 326.2,1650.4 335.9,1656.4 343.6,1659.5 352.8,1663.7 363.4,1666.6 376.2,1670.3 392.6,1673.2 415.6,1675.2 447.4,1675.6 465.3,1676.2 503.2,1676.2" fill="none" stroke="#3ea33a" stroke-width="2.2" stroke-linejoin="round"/>
<circle cx="242" cy="1390" r="4.6" fill="#3ea33a"/>
<circle cx="250.6" cy="1264.6" r="4.6" fill="#3ea33a"/>
<circle cx="257.5" cy="1437.7" r="4.6" fill="#3ea33a"/>
<circle cx="263.8" cy="1472.2" r="4.6" fill="#3ea33a"/>
<circle cx="269.5" cy="1536.3" r="4.6" fill="#3ea33a"/>
<circle cx="276.2" cy="1551.7" r="4.6" fill="#3ea33a"/>
<circle cx="283.3" cy="1581.9" r="4.6" fill="#3ea33a"/>
<circle cx="290" cy="1611" r="4.6" fill="#3ea33a"/>
<circle cx="297.6" cy="1609.9" r="4.6" fill="#3ea33a"/>
<circle cx="306.1" cy="1632.6" r="4.6" fill="#3ea33a"/>
<circle cx="315.4" cy="1640.8" r="4.6" fill="#3ea33a"/>
<circle cx="326.2" cy="1650.4" r="4.6" fill="#3ea33a"/>
<circle cx="335.9" cy="1656.4" r="4.6" fill="#3ea33a"/>
<circle cx="343.6" cy="1659.5" r="4.6" fill="#3ea33a"/>
<circle cx="352.8" cy="1663.7" r="4.6" fill="#3ea33a"/>
<circle cx="363.4" cy="1666.6" r="4.6" fill="#3ea33a"/>
<circle cx="376.2" cy="1670.3" r="4.6" fill="#3ea33a"/>
<circle cx="392.6" cy="1673.2" r="4.6" fill="#3ea33a"/>
<circle cx="415.6" cy="1675.2" r="4.6" fill="#3ea33a"/>
<circle cx="447.4" cy="1675.6" r="4.6" fill="#3ea33a"/>
<circle cx="465.3" cy="1676.2" r="4.6" fill="#3ea33a"/>
<circle cx="503.2" cy="1676.2" r="4.6" fill="#3ea33a"/>
<line x1="679.2" y1="1190.9" x2="679.2" y2="1681" stroke="#111" stroke-width="2.5"/>
<line x1="674.2" y1="1676" x2="1164.2" y2="1676" stroke="#111" stroke-width="2.5"/>
<line x1="673.7" y1="1676" x2="679.2" y2="1676" stroke="#111" stroke-width="2.2"/>
<text x="666.7" y="1682.6" text-anchor="end" font-size="15.8" fill="#222" font-weight="400" stroke="#222" stroke-width="0.55">0</text>
<line x1="673.7" y1="1555.3" x2="679.2" y2="1555.3" stroke="#111" stroke-width="2.2"/>
<text x="666.7" y="1561.9" text-anchor="end" font-size="15.8" fill="#222" font-weight="400" stroke="#222" stroke-width="0.55">0.01</text>
<line x1="673.7" y1="1434.1" x2="679.2" y2="1434.1" stroke="#111" stroke-width="2.2"/>
<text x="666.7" y="1440.7" text-anchor="end" font-size="15.8" fill="#222" font-weight="400" stroke="#222" stroke-width="0.55">0.02</text>
<line x1="673.7" y1="1313.1" x2="679.2" y2="1313.1" stroke="#111" stroke-width="2.2"/>
<text x="666.7" y="1319.7" text-anchor="end" font-size="15.8" fill="#222" font-weight="400" stroke="#222" stroke-width="0.55">0.03</text>
<line x1="673.7" y1="1191.9" x2="679.2" y2="1191.9" stroke="#111" stroke-width="2.2"/>
<text x="666.7" y="1198.5" text-anchor="end" font-size="15.8" fill="#222" font-weight="400" stroke="#222" stroke-width="0.55">0.04</text>
<line x1="679.2" y1="1676" x2="679.2" y2="1681" stroke="#111" stroke-width="2.2"/>
<text x="679.2" y="1703.5" text-anchor="middle" font-size="15.8" fill="#222" font-weight="400" stroke="#222" stroke-width="0.55">1</text>
<line x1="715.6" y1="1676" x2="715.6" y2="1685.5" stroke="#111" stroke-width="2.2"/>
<line x1="736.9" y1="1676" x2="736.9" y2="1685.5" stroke="#111" stroke-width="2.2"/>
<line x1="752" y1="1676" x2="752" y2="1685.5" stroke="#111" stroke-width="2.2"/>
<line x1="763.8" y1="1676" x2="763.8" y2="1685.5" stroke="#111" stroke-width="2.2"/>
<line x1="773.4" y1="1676" x2="773.4" y2="1685.5" stroke="#111" stroke-width="2.2"/>
<line x1="781.5" y1="1676" x2="781.5" y2="1685.5" stroke="#111" stroke-width="2.2"/>
<line x1="788.5" y1="1676" x2="788.5" y2="1685.5" stroke="#111" stroke-width="2.2"/>
<line x1="794.7" y1="1676" x2="794.7" y2="1685.5" stroke="#111" stroke-width="2.2"/>
<line x1="800.2" y1="1676" x2="800.2" y2="1681" stroke="#111" stroke-width="2.2"/>
<text x="800.2" y="1703.5" text-anchor="middle" font-size="15.8" fill="#222" font-weight="400" stroke="#222" stroke-width="0.55">10</text>
<line x1="836.6" y1="1676" x2="836.6" y2="1685.5" stroke="#111" stroke-width="2.2"/>
<line x1="857.9" y1="1676" x2="857.9" y2="1685.5" stroke="#111" stroke-width="2.2"/>
<line x1="873" y1="1676" x2="873" y2="1685.5" stroke="#111" stroke-width="2.2"/>
<line x1="884.8" y1="1676" x2="884.8" y2="1685.5" stroke="#111" stroke-width="2.2"/>
<line x1="894.4" y1="1676" x2="894.4" y2="1685.5" stroke="#111" stroke-width="2.2"/>
<line x1="902.5" y1="1676" x2="902.5" y2="1685.5" stroke="#111" stroke-width="2.2"/>
<line x1="909.5" y1="1676" x2="909.5" y2="1685.5" stroke="#111" stroke-width="2.2"/>
<line x1="915.7" y1="1676" x2="915.7" y2="1685.5" stroke="#111" stroke-width="2.2"/>
<line x1="921.2" y1="1676" x2="921.2" y2="1681" stroke="#111" stroke-width="2.2"/>
<text x="921.2" y="1703.5" text-anchor="middle" font-size="15.8" fill="#222" font-weight="400" stroke="#222" stroke-width="0.55">100</text>
<line x1="957.6" y1="1676" x2="957.6" y2="1685.5" stroke="#111" stroke-width="2.2"/>
<line x1="978.9" y1="1676" x2="978.9" y2="1685.5" stroke="#111" stroke-width="2.2"/>
<line x1="994" y1="1676" x2="994" y2="1685.5" stroke="#111" stroke-width="2.2"/>
<line x1="1005.8" y1="1676" x2="1005.8" y2="1685.5" stroke="#111" stroke-width="2.2"/>
<line x1="1015.4" y1="1676" x2="1015.4" y2="1685.5" stroke="#111" stroke-width="2.2"/>
<line x1="1023.5" y1="1676" x2="1023.5" y2="1685.5" stroke="#111" stroke-width="2.2"/>
<line x1="1030.5" y1="1676" x2="1030.5" y2="1685.5" stroke="#111" stroke-width="2.2"/>
<line x1="1036.7" y1="1676" x2="1036.7" y2="1685.5" stroke="#111" stroke-width="2.2"/>
<line x1="1042.2" y1="1676" x2="1042.2" y2="1681" stroke="#111" stroke-width="2.2"/>
<text x="1042.2" y="1703.5" text-anchor="middle" font-size="15.8" fill="#222" font-weight="400" stroke="#222" stroke-width="0.55">1,000</text>
<line x1="1078.6" y1="1676" x2="1078.6" y2="1685.5" stroke="#111" stroke-width="2.2"/>
<line x1="1099.9" y1="1676" x2="1099.9" y2="1685.5" stroke="#111" stroke-width="2.2"/>
<line x1="1115" y1="1676" x2="1115" y2="1685.5" stroke="#111" stroke-width="2.2"/>
<line x1="1126.8" y1="1676" x2="1126.8" y2="1685.5" stroke="#111" stroke-width="2.2"/>
<line x1="1136.4" y1="1676" x2="1136.4" y2="1685.5" stroke="#111" stroke-width="2.2"/>
<line x1="1144.5" y1="1676" x2="1144.5" y2="1685.5" stroke="#111" stroke-width="2.2"/>
<line x1="1151.5" y1="1676" x2="1151.5" y2="1685.5" stroke="#111" stroke-width="2.2"/>
<line x1="1157.7" y1="1676" x2="1157.7" y2="1685.5" stroke="#111" stroke-width="2.2"/>
<line x1="1163.2" y1="1676" x2="1163.2" y2="1681" stroke="#111" stroke-width="2.2"/>
<text x="1163.2" y="1703.5" text-anchor="middle" font-size="15.8" fill="#222" font-weight="400" stroke="#222" stroke-width="0.55">10,000</text>
<text x="921.7" y="1724.6" text-anchor="middle" font-size="19.6" fill="#151515" font-weight="400" stroke="#151515" stroke-width="0.5">D (A)</text>
<text transform="translate(628.6,1435.3) rotate(-90)" text-anchor="middle" font-size="18.8" fill="#151515" font-weight="400" stroke="#151515" stroke-width="0.5">dV/dD (cm<tspan font-size="15" dy="-7.9">3</tspan><tspan dy="7.9">/g·</tspan><tspan font-family='"Liberation Serif", serif' fill="#7a7a7a" stroke="none" font-size="17.9">A</tspan><tspan font-size="11.7" fill="#888" stroke="none" dx="-8.8" dy="-9.4">°</tspan><tspan dx="4.1" dy="9.4">)</tspan></text>
<text x="700" y="1222.2" font-size="24" font-weight="700" fill="#111" stroke="#111" stroke-width="0">f</text>
<rect x="835.2" y="1188.6" width="348" height="56.5" fill="#fff" stroke="#333" stroke-width="1.6"/>
<line x1="846.8" y1="1209.7" x2="922.7" y2="1209.7" stroke="#1d6f78" stroke-width="2.4"/>
<circle cx="846.8" cy="1209.7" r="4" fill="#1d6f78"/>
<circle cx="884.7" cy="1209.7" r="4" fill="#1d6f78"/>
<circle cx="922.7" cy="1209.7" r="4" fill="#1d6f78"/>
<line x1="846.8" y1="1231.2" x2="922.7" y2="1231.2" stroke="#bbb" stroke-width="1" stroke-dasharray="none"/>
<circle cx="846.8" cy="1231.2" r="3.6" fill="none" stroke="#2a7880" stroke-width="2"/>
<circle cx="884.7" cy="1231.2" r="3.6" fill="none" stroke="#2a7880" stroke-width="2"/>
<circle cx="922.7" cy="1231.2" r="3.6" fill="none" stroke="#2a7880" stroke-width="2"/>
<text x="933.7" y="1214.6" font-size="14.4" fill="#333" font-weight="400" stroke="#333" stroke-width="0.25">CD_MV_1.5 h HK analysis (N<tspan font-size="9.4" dy="2.9">2</tspan><tspan dy="-2.9">)</tspan></text>
<text x="933.7" y="1236.1" font-size="14.4" fill="#333" font-weight="400" stroke="#333" stroke-width="0.25">CD_MV_1.5 h Dv(R) analysis (SAXS)</text>
<polyline points="716.4,1508.2 752.7,1435.3 774.3,1368.5 789.3,1316.1 801.1,1285.9 810.9,1283.3 818.8,1308.7 825.8,1358.1 832.1,1423.2 838,1494.2 842.5,1558.3 847.1,1607.3 851.3,1633.9 855.3,1637.5 859.2,1621.2 862.2,1591.5 865.8,1557.7 868.3,1527.4 870.9,1507.7 873.9,1501.7 876.7,1509.9 879.1,1529.9 881.2,1555.3 883.6,1581.3 885.8,1602.4 888.2,1616.9 891.8,1612.7 893.7,1599.4 895.5,1581.9 897.3,1563.7 898.5,1547.4 900.1,1535.9 902.7,1528.7 904.5,1531.7 907,1537.7 907.9,1545 909.4,1552.2 911.2,1558.3 913.6,1564.3 915.4,1570.4 917.8,1578.2 918.4,1589.1 920.3,1601.2 921.5,1613.3 922.7,1623.6 923.9,1627.8 926.3,1619.4 926.7,1606.4 927.5,1589.1 928.1,1570.4 929.3,1552.8 930.5,1540.1 931.7,1533.5 933.6,1548.6 934.8,1561.3 935.4,1574 936,1584.9 936.6,1594 937.8,1601.2 939.6,1607.9 940.8,1612.7 943.2,1595.2 943.8,1582.5 944.4,1566.7 944.4,1549.2 945.7,1533.5 946.9,1520.8 946.9,1516.6 948.1,1529.3 948.1,1547.4 949.6,1568.6 950.5,1591.5 950.9,1613.9 951.5,1633.9 952.9,1647.8 952.9,1655.6 955.3,1635.7 954.7,1613.3 957.1,1582.5 956.4,1548.4 957.4,1512.2 957.4,1498.5 957.4,1483.3 957.4,1472.6 958.4,1582.2" fill="none" stroke="#bbb" stroke-width="1" stroke-dasharray="none"/>
<circle cx="716.4" cy="1508.2" r="3.6" fill="none" stroke="#2a7880" stroke-width="2"/>
<circle cx="752.7" cy="1435.3" r="3.6" fill="none" stroke="#2a7880" stroke-width="2"/>
<circle cx="774.3" cy="1368.5" r="3.6" fill="none" stroke="#2a7880" stroke-width="2"/>
<circle cx="789.3" cy="1316.1" r="3.6" fill="none" stroke="#2a7880" stroke-width="2"/>
<circle cx="801.1" cy="1285.9" r="3.6" fill="none" stroke="#2a7880" stroke-width="2"/>
<circle cx="810.9" cy="1283.3" r="3.6" fill="none" stroke="#2a7880" stroke-width="2"/>
<circle cx="818.8" cy="1308.7" r="3.6" fill="none" stroke="#2a7880" stroke-width="2"/>
<circle cx="825.8" cy="1358.1" r="3.6" fill="none" stroke="#2a7880" stroke-width="2"/>
<circle cx="832.1" cy="1423.2" r="3.6" fill="none" stroke="#2a7880" stroke-width="2"/>
<circle cx="838" cy="1494.2" r="3.6" fill="none" stroke="#2a7880" stroke-width="2"/>
<circle cx="842.5" cy="1558.3" r="3.6" fill="none" stroke="#2a7880" stroke-width="2"/>
<circle cx="847.1" cy="1607.3" r="3.6" fill="none" stroke="#2a7880" stroke-width="2"/>
<circle cx="851.3" cy="1633.9" r="3.6" fill="none" stroke="#2a7880" stroke-width="2"/>
<circle cx="855.3" cy="1637.5" r="3.6" fill="none" stroke="#2a7880" stroke-width="2"/>
<circle cx="859.2" cy="1621.2" r="3.6" fill="none" stroke="#2a7880" stroke-width="2"/>
<circle cx="862.2" cy="1591.5" r="3.6" fill="none" stroke="#2a7880" stroke-width="2"/>
<circle cx="865.8" cy="1557.7" r="3.6" fill="none" stroke="#2a7880" stroke-width="2"/>
<circle cx="868.3" cy="1527.4" r="3.6" fill="none" stroke="#2a7880" stroke-width="2"/>
<circle cx="870.9" cy="1507.7" r="3.6" fill="none" stroke="#2a7880" stroke-width="2"/>
<circle cx="873.9" cy="1501.7" r="3.6" fill="none" stroke="#2a7880" stroke-width="2"/>
<circle cx="876.7" cy="1509.9" r="3.6" fill="none" stroke="#2a7880" stroke-width="2"/>
<circle cx="879.1" cy="1529.9" r="3.6" fill="none" stroke="#2a7880" stroke-width="2"/>
<circle cx="881.2" cy="1555.3" r="3.6" fill="none" stroke="#2a7880" stroke-width="2"/>
<circle cx="883.6" cy="1581.3" r="3.6" fill="none" stroke="#2a7880" stroke-width="2"/>
<circle cx="885.8" cy="1602.4" r="3.6" fill="none" stroke="#2a7880" stroke-width="2"/>
<circle cx="888.2" cy="1616.9" r="3.6" fill="none" stroke="#2a7880" stroke-width="2"/>
<circle cx="891.8" cy="1612.7" r="3.6" fill="none" stroke="#2a7880" stroke-width="2"/>
<circle cx="893.7" cy="1599.4" r="3.6" fill="none" stroke="#2a7880" stroke-width="2"/>
<circle cx="895.5" cy="1581.9" r="3.6" fill="none" stroke="#2a7880" stroke-width="2"/>
<circle cx="897.3" cy="1563.7" r="3.6" fill="none" stroke="#2a7880" stroke-width="2"/>
<circle cx="898.5" cy="1547.4" r="3.6" fill="none" stroke="#2a7880" stroke-width="2"/>
<circle cx="900.1" cy="1535.9" r="3.6" fill="none" stroke="#2a7880" stroke-width="2"/>
<circle cx="902.7" cy="1528.7" r="3.6" fill="none" stroke="#2a7880" stroke-width="2"/>
<circle cx="904.5" cy="1531.7" r="3.6" fill="none" stroke="#2a7880" stroke-width="2"/>
<circle cx="907" cy="1537.7" r="3.6" fill="none" stroke="#2a7880" stroke-width="2"/>
<circle cx="907.9" cy="1545" r="3.6" fill="none" stroke="#2a7880" stroke-width="2"/>
<circle cx="909.4" cy="1552.2" r="3.6" fill="none" stroke="#2a7880" stroke-width="2"/>
<circle cx="911.2" cy="1558.3" r="3.6" fill="none" stroke="#2a7880" stroke-width="2"/>
<circle cx="913.6" cy="1564.3" r="3.6" fill="none" stroke="#2a7880" stroke-width="2"/>
<circle cx="915.4" cy="1570.4" r="3.6" fill="none" stroke="#2a7880" stroke-width="2"/>
<circle cx="917.8" cy="1578.2" r="3.6" fill="none" stroke="#2a7880" stroke-width="2"/>
<circle cx="918.4" cy="1589.1" r="3.6" fill="none" stroke="#2a7880" stroke-width="2"/>
<circle cx="920.3" cy="1601.2" r="3.6" fill="none" stroke="#2a7880" stroke-width="2"/>
<circle cx="921.5" cy="1613.3" r="3.6" fill="none" stroke="#2a7880" stroke-width="2"/>
<circle cx="922.7" cy="1623.6" r="3.6" fill="none" stroke="#2a7880" stroke-width="2"/>
<circle cx="923.9" cy="1627.8" r="3.6" fill="none" stroke="#2a7880" stroke-width="2"/>
<circle cx="926.3" cy="1619.4" r="3.6" fill="none" stroke="#2a7880" stroke-width="2"/>
<circle cx="926.7" cy="1606.4" r="3.6" fill="none" stroke="#2a7880" stroke-width="2"/>
<circle cx="927.5" cy="1589.1" r="3.6" fill="none" stroke="#2a7880" stroke-width="2"/>
<circle cx="928.1" cy="1570.4" r="3.6" fill="none" stroke="#2a7880" stroke-width="2"/>
<circle cx="929.3" cy="1552.8" r="3.6" fill="none" stroke="#2a7880" stroke-width="2"/>
<circle cx="930.5" cy="1540.1" r="3.6" fill="none" stroke="#2a7880" stroke-width="2"/>
<circle cx="931.7" cy="1533.5" r="3.6" fill="none" stroke="#2a7880" stroke-width="2"/>
<circle cx="933.6" cy="1548.6" r="3.6" fill="none" stroke="#2a7880" stroke-width="2"/>
<circle cx="934.8" cy="1561.3" r="3.6" fill="none" stroke="#2a7880" stroke-width="2"/>
<circle cx="935.4" cy="1574" r="3.6" fill="none" stroke="#2a7880" stroke-width="2"/>
<circle cx="936" cy="1584.9" r="3.6" fill="none" stroke="#2a7880" stroke-width="2"/>
<circle cx="936.6" cy="1594" r="3.6" fill="none" stroke="#2a7880" stroke-width="2"/>
<circle cx="937.8" cy="1601.2" r="3.6" fill="none" stroke="#2a7880" stroke-width="2"/>
<circle cx="939.6" cy="1607.9" r="3.6" fill="none" stroke="#2a7880" stroke-width="2"/>
<circle cx="940.8" cy="1612.7" r="3.6" fill="none" stroke="#2a7880" stroke-width="2"/>
<circle cx="943.2" cy="1595.2" r="3.6" fill="none" stroke="#2a7880" stroke-width="2"/>
<circle cx="943.8" cy="1582.5" r="3.6" fill="none" stroke="#2a7880" stroke-width="2"/>
<circle cx="944.4" cy="1566.7" r="3.6" fill="none" stroke="#2a7880" stroke-width="2"/>
<circle cx="944.4" cy="1549.2" r="3.6" fill="none" stroke="#2a7880" stroke-width="2"/>
<circle cx="945.7" cy="1533.5" r="3.6" fill="none" stroke="#2a7880" stroke-width="2"/>
<circle cx="946.9" cy="1520.8" r="3.6" fill="none" stroke="#2a7880" stroke-width="2"/>
<circle cx="946.9" cy="1516.6" r="3.6" fill="none" stroke="#2a7880" stroke-width="2"/>
<circle cx="948.1" cy="1529.3" r="3.6" fill="none" stroke="#2a7880" stroke-width="2"/>
<circle cx="948.1" cy="1547.4" r="3.6" fill="none" stroke="#2a7880" stroke-width="2"/>
<circle cx="949.6" cy="1568.6" r="3.6" fill="none" stroke="#2a7880" stroke-width="2"/>
<circle cx="950.5" cy="1591.5" r="3.6" fill="none" stroke="#2a7880" stroke-width="2"/>
<circle cx="950.9" cy="1613.9" r="3.6" fill="none" stroke="#2a7880" stroke-width="2"/>
<circle cx="951.5" cy="1633.9" r="3.6" fill="none" stroke="#2a7880" stroke-width="2"/>
<circle cx="952.9" cy="1647.8" r="3.6" fill="none" stroke="#2a7880" stroke-width="2"/>
<circle cx="952.9" cy="1655.6" r="3.6" fill="none" stroke="#2a7880" stroke-width="2"/>
<circle cx="955.3" cy="1635.7" r="3.6" fill="none" stroke="#2a7880" stroke-width="2"/>
<circle cx="954.7" cy="1613.3" r="3.6" fill="none" stroke="#2a7880" stroke-width="2"/>
<circle cx="957.1" cy="1582.5" r="3.6" fill="none" stroke="#2a7880" stroke-width="2"/>
<circle cx="956.4" cy="1548.4" r="3.6" fill="none" stroke="#2a7880" stroke-width="2"/>
<circle cx="957.4" cy="1512.2" r="3.6" fill="none" stroke="#2a7880" stroke-width="2"/>
<circle cx="957.4" cy="1498.5" r="3.6" fill="none" stroke="#2a7880" stroke-width="2"/>
<circle cx="957.4" cy="1483.3" r="3.6" fill="none" stroke="#2a7880" stroke-width="2"/>
<circle cx="957.4" cy="1472.6" r="3.6" fill="none" stroke="#2a7880" stroke-width="2"/>
<circle cx="958.4" cy="1582.2" r="3.6" fill="none" stroke="#2a7880" stroke-width="2"/>
<polyline points="831.8,1402.2 840.3,1286.3 847.1,1478.5 853.4,1488.8 858.6,1556.5 865.5,1570.6 872.7,1598 878.8,1620.9 887.4,1617.8 895.2,1638.1 904.2,1644.1 915.4,1653.8 925.1,1660.5 932.4,1664.1 942,1666.5 952.5,1669 964.5,1671.3 981.3,1672.8 1003.9,1674.7 1035.1,1675.4 1053.7,1675.9 1089,1676.2" fill="none" stroke="#1d6f78" stroke-width="2.4" stroke-linejoin="round"/>
<circle cx="831.8" cy="1402.2" r="4.6" fill="#1d6f78"/>
<circle cx="840.3" cy="1286.3" r="4.6" fill="#1d6f78"/>
<circle cx="847.1" cy="1478.5" r="4.6" fill="#1d6f78"/>
<circle cx="853.4" cy="1488.8" r="4.6" fill="#1d6f78"/>
<circle cx="858.6" cy="1556.5" r="4.6" fill="#1d6f78"/>
<circle cx="865.5" cy="1570.6" r="4.6" fill="#1d6f78"/>
<circle cx="872.7" cy="1598" r="4.6" fill="#1d6f78"/>
<circle cx="878.8" cy="1620.9" r="4.6" fill="#1d6f78"/>
<circle cx="887.4" cy="1617.8" r="4.6" fill="#1d6f78"/>
<circle cx="895.2" cy="1638.1" r="4.6" fill="#1d6f78"/>
<circle cx="904.2" cy="1644.1" r="4.6" fill="#1d6f78"/>
<circle cx="915.4" cy="1653.8" r="4.6" fill="#1d6f78"/>
<circle cx="925.1" cy="1660.5" r="4.6" fill="#1d6f78"/>
<circle cx="932.4" cy="1664.1" r="4.6" fill="#1d6f78"/>
<circle cx="942" cy="1666.5" r="4.6" fill="#1d6f78"/>
<circle cx="952.5" cy="1669" r="4.6" fill="#1d6f78"/>
<circle cx="964.5" cy="1671.3" r="4.6" fill="#1d6f78"/>
<circle cx="981.3" cy="1672.8" r="4.6" fill="#1d6f78"/>
<circle cx="1003.9" cy="1674.7" r="4.6" fill="#1d6f78"/>
<circle cx="1035.1" cy="1675.4" r="4.6" fill="#1d6f78"/>
<circle cx="1053.7" cy="1675.9" r="4.6" fill="#1d6f78"/>
<circle cx="1089" cy="1676.2" r="4.6" fill="#1d6f78"/>
</g>
</svg></body></html>
